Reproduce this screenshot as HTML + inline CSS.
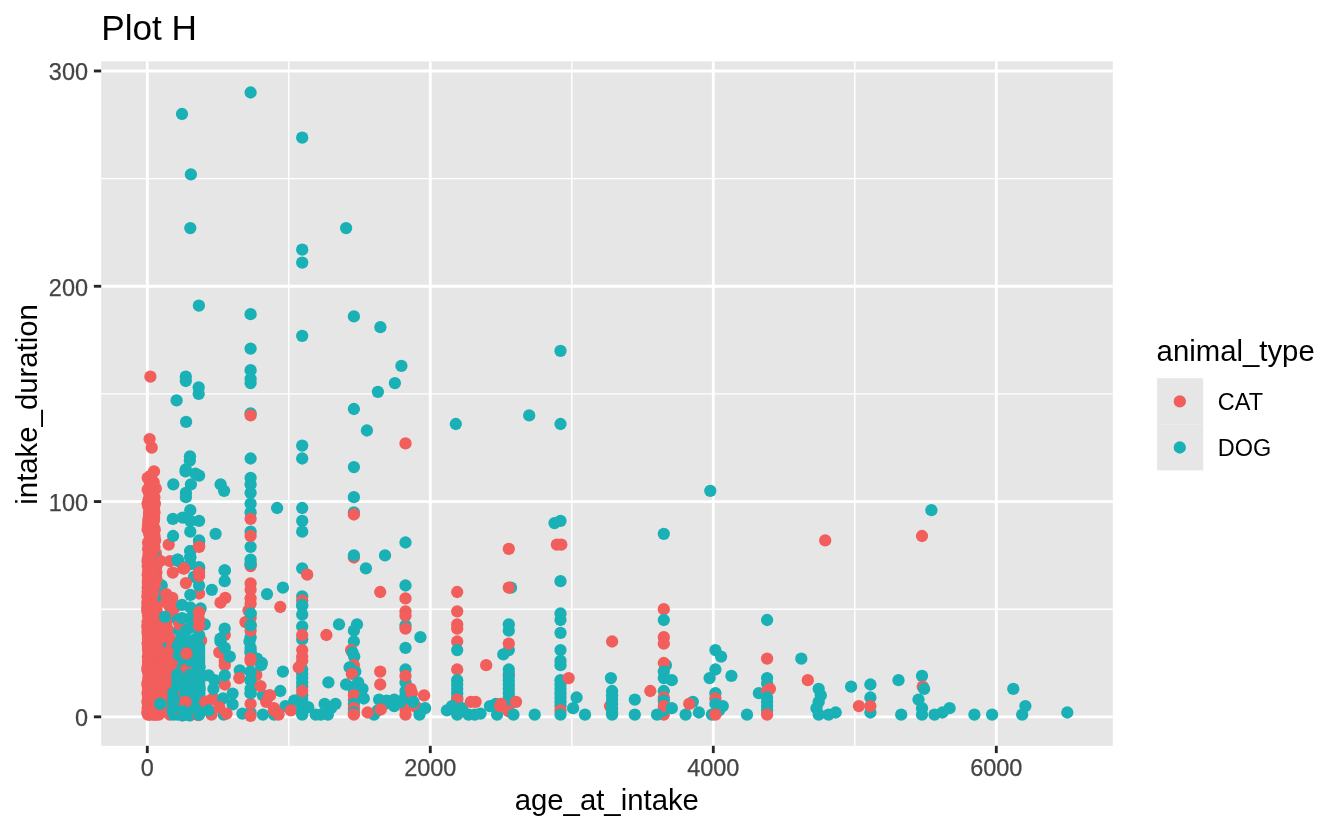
<!DOCTYPE html>
<html lang="en"><head><meta charset="utf-8"><title>Plot H</title>
<style>
html,body{margin:0;padding:0;background:#fff;}
svg{display:block;font-family:"Liberation Sans",Arial,Helvetica,sans-serif;}
.mn{stroke:#fff;stroke-width:1.42;}
.mj{stroke:#fff;stroke-width:2.85;}
.tk{stroke:#262626;stroke-width:2.85;}
.ax{font-size:23.47px;fill:#444;stroke:#444;stroke-width:0.25;}
.c{fill:#f25e5c;}
.d{fill:#1ab1b6;}
.t{font-size:29.33px;fill:#000;}
</style></head><body>
<svg width="1344" height="830" viewBox="0 0 1344 830">
<rect x="0" y="0" width="1344" height="830" fill="#fff"/>
<rect x="101.2" y="61.4" width="1011.6" height="684.4" fill="#e6e6e6"/>
<g><line class="mn" x1="101.2" x2="1112.8" y1="609.20" y2="609.20"/>
<line class="mn" x1="101.2" x2="1112.8" y1="393.91" y2="393.91"/>
<line class="mn" x1="101.2" x2="1112.8" y1="178.62" y2="178.62"/>
<line class="mn" x1="288.80" x2="288.80" y1="61.4" y2="745.8"/>
<line class="mn" x1="571.80" x2="571.80" y1="61.4" y2="745.8"/>
<line class="mn" x1="854.80" x2="854.80" y1="61.4" y2="745.8"/>
<line class="mj" x1="101.2" x2="1112.8" y1="716.84" y2="716.84"/>
<line class="mj" x1="101.2" x2="1112.8" y1="501.55" y2="501.55"/>
<line class="mj" x1="101.2" x2="1112.8" y1="286.26" y2="286.26"/>
<line class="mj" x1="101.2" x2="1112.8" y1="70.97" y2="70.97"/>
<line class="mj" x1="147.30" x2="147.30" y1="61.4" y2="745.8"/>
<line class="mj" x1="430.30" x2="430.30" y1="61.4" y2="745.8"/>
<line class="mj" x1="713.30" x2="713.30" y1="61.4" y2="745.8"/>
<line class="mj" x1="996.30" x2="996.30" y1="61.4" y2="745.8"/></g>
<g><circle class="c" cx="164.3" cy="645.8" r="6.15"/>
<circle class="c" cx="155.6" cy="620.0" r="6.15"/>
<circle class="c" cx="151.4" cy="557.5" r="6.15"/>
<circle class="c" cx="148.0" cy="598.4" r="6.15"/>
<circle class="c" cx="155.4" cy="637.2" r="6.15"/>
<circle class="c" cx="154.4" cy="617.8" r="6.15"/>
<circle class="c" cx="149.7" cy="643.6" r="6.15"/>
<circle class="c" cx="164.1" cy="665.2" r="6.15"/>
<circle class="d" cx="158.9" cy="640.4" r="6.15"/>
<circle class="c" cx="151.5" cy="536.0" r="6.15"/>
<circle class="d" cx="158.9" cy="640.4" r="6.15"/>
<circle class="c" cx="147.6" cy="693.2" r="6.15"/>
<circle class="c" cx="155.2" cy="641.5" r="6.15"/>
<circle class="c" cx="151.3" cy="525.2" r="6.15"/>
<circle class="c" cx="150.4" cy="527.4" r="6.15"/>
<circle class="c" cx="158.5" cy="622.1" r="6.15"/>
<circle class="d" cx="157.2" cy="643.6" r="6.15"/>
<circle class="c" cx="150.3" cy="650.1" r="6.15"/>
<circle class="c" cx="154.8" cy="667.3" r="6.15"/>
<circle class="c" cx="151.0" cy="581.2" r="6.15"/>
<circle class="d" cx="157.2" cy="643.6" r="6.15"/>
<circle class="c" cx="149.0" cy="617.8" r="6.15"/>
<circle class="c" cx="160.7" cy="703.9" r="6.15"/>
<circle class="c" cx="157.9" cy="682.4" r="6.15"/>
<circle class="c" cx="153.2" cy="587.7" r="6.15"/>
<circle class="c" cx="150.4" cy="546.8" r="6.15"/>
<circle class="c" cx="158.3" cy="697.5" r="6.15"/>
<circle class="c" cx="148.6" cy="628.6" r="6.15"/>
<circle class="c" cx="153.5" cy="647.9" r="6.15"/>
<circle class="c" cx="147.7" cy="630.7" r="6.15"/>
<circle class="c" cx="155.4" cy="688.9" r="6.15"/>
<circle class="c" cx="151.4" cy="512.3" r="6.15"/>
<circle class="c" cx="150.0" cy="654.4" r="6.15"/>
<circle class="c" cx="162.6" cy="620.0" r="6.15"/>
<circle class="d" cx="162.6" cy="596.7" r="6.15"/>
<circle class="c" cx="158.6" cy="654.4" r="6.15"/>
<circle class="c" cx="158.9" cy="658.7" r="6.15"/>
<circle class="c" cx="151.0" cy="613.5" r="6.15"/>
<circle class="c" cx="151.0" cy="622.1" r="6.15"/>
<circle class="c" cx="147.4" cy="669.5" r="6.15"/>
<circle class="c" cx="148.1" cy="600.6" r="6.15"/>
<circle class="c" cx="148.7" cy="652.3" r="6.15"/>
<circle class="c" cx="147.6" cy="503.7" r="6.15"/>
<circle class="c" cx="154.8" cy="561.8" r="6.15"/>
<circle class="c" cx="158.3" cy="650.1" r="6.15"/>
<circle class="c" cx="156.4" cy="673.8" r="6.15"/>
<circle class="c" cx="154.7" cy="641.5" r="6.15"/>
<circle class="c" cx="156.2" cy="592.0" r="6.15"/>
<circle class="c" cx="148.3" cy="594.1" r="6.15"/>
<circle class="c" cx="151.4" cy="598.4" r="6.15"/>
<circle class="c" cx="153.0" cy="529.5" r="6.15"/>
<circle class="c" cx="155.9" cy="680.2" r="6.15"/>
<circle class="c" cx="155.8" cy="583.4" r="6.15"/>
<circle class="c" cx="155.8" cy="643.6" r="6.15"/>
<circle class="c" cx="158.6" cy="632.9" r="6.15"/>
<circle class="d" cx="154.8" cy="648.8" r="6.15"/>
<circle class="c" cx="148.3" cy="641.5" r="6.15"/>
<circle class="c" cx="155.4" cy="660.9" r="6.15"/>
<circle class="c" cx="155.2" cy="654.4" r="6.15"/>
<circle class="d" cx="162.9" cy="630.7" r="6.15"/>
<circle class="c" cx="155.8" cy="553.2" r="6.15"/>
<circle class="c" cx="161.0" cy="708.2" r="6.15"/>
<circle class="c" cx="150.0" cy="508.0" r="6.15"/>
<circle class="d" cx="157.2" cy="697.5" r="6.15"/>
<circle class="c" cx="156.4" cy="667.3" r="6.15"/>
<circle class="d" cx="162.0" cy="686.7" r="6.15"/>
<circle class="c" cx="147.6" cy="529.5" r="6.15"/>
<circle class="c" cx="150.8" cy="650.1" r="6.15"/>
<circle class="c" cx="147.4" cy="701.8" r="6.15"/>
<circle class="c" cx="151.5" cy="641.5" r="6.15"/>
<circle class="c" cx="153.1" cy="673.8" r="6.15"/>
<circle class="c" cx="147.7" cy="561.8" r="6.15"/>
<circle class="c" cx="148.7" cy="613.5" r="6.15"/>
<circle class="c" cx="151.1" cy="708.2" r="6.15"/>
<circle class="c" cx="151.7" cy="505.9" r="6.15"/>
<circle class="c" cx="153.4" cy="624.3" r="6.15"/>
<circle class="c" cx="154.0" cy="628.6" r="6.15"/>
<circle class="c" cx="147.6" cy="667.3" r="6.15"/>
<circle class="d" cx="151.5" cy="613.5" r="6.15"/>
<circle class="c" cx="151.1" cy="585.5" r="6.15"/>
<circle class="c" cx="151.1" cy="617.8" r="6.15"/>
<circle class="c" cx="148.9" cy="699.6" r="6.15"/>
<circle class="d" cx="165.3" cy="669.5" r="6.15"/>
<circle class="c" cx="150.1" cy="559.7" r="6.15"/>
<circle class="c" cx="153.2" cy="607.0" r="6.15"/>
<circle class="c" cx="159.2" cy="693.2" r="6.15"/>
<circle class="c" cx="151.0" cy="710.4" r="6.15"/>
<circle class="c" cx="151.0" cy="684.5" r="6.15"/>
<circle class="c" cx="149.0" cy="602.7" r="6.15"/>
<circle class="c" cx="150.1" cy="667.3" r="6.15"/>
<circle class="c" cx="154.0" cy="533.8" r="6.15"/>
<circle class="c" cx="150.3" cy="635.0" r="6.15"/>
<circle class="d" cx="154.4" cy="574.7" r="6.15"/>
<circle class="c" cx="161.2" cy="682.4" r="6.15"/>
<circle class="c" cx="158.2" cy="699.6" r="6.15"/>
<circle class="c" cx="158.6" cy="671.6" r="6.15"/>
<circle class="c" cx="154.7" cy="596.3" r="6.15"/>
<circle class="c" cx="147.6" cy="622.1" r="6.15"/>
<circle class="c" cx="155.2" cy="624.3" r="6.15"/>
<circle class="c" cx="155.4" cy="684.5" r="6.15"/>
<circle class="d" cx="167.4" cy="643.6" r="6.15"/>
<circle class="c" cx="158.3" cy="620.0" r="6.15"/>
<circle class="c" cx="148.6" cy="518.8" r="6.15"/>
<circle class="c" cx="152.7" cy="570.4" r="6.15"/>
<circle class="c" cx="147.6" cy="632.9" r="6.15"/>
<circle class="d" cx="155.1" cy="643.6" r="6.15"/>
<circle class="c" cx="148.1" cy="505.9" r="6.15"/>
<circle class="c" cx="155.6" cy="598.4" r="6.15"/>
<circle class="c" cx="160.5" cy="622.1" r="6.15"/>
<circle class="d" cx="150.1" cy="710.4" r="6.15"/>
<circle class="c" cx="158.1" cy="628.6" r="6.15"/>
<circle class="c" cx="147.3" cy="712.5" r="6.15"/>
<circle class="d" cx="155.1" cy="643.6" r="6.15"/>
<circle class="c" cx="156.2" cy="583.4" r="6.15"/>
<circle class="c" cx="153.8" cy="600.6" r="6.15"/>
<circle class="c" cx="149.0" cy="658.7" r="6.15"/>
<circle class="c" cx="147.9" cy="656.6" r="6.15"/>
<circle class="c" cx="150.1" cy="540.3" r="6.15"/>
<circle class="c" cx="154.0" cy="645.8" r="6.15"/>
<circle class="c" cx="149.8" cy="527.4" r="6.15"/>
<circle class="c" cx="152.1" cy="671.6" r="6.15"/>
<circle class="c" cx="148.6" cy="557.5" r="6.15"/>
<circle class="c" cx="155.9" cy="615.7" r="6.15"/>
<circle class="c" cx="153.0" cy="548.9" r="6.15"/>
<circle class="c" cx="153.7" cy="654.4" r="6.15"/>
<circle class="c" cx="151.8" cy="697.5" r="6.15"/>
<circle class="c" cx="156.5" cy="611.3" r="6.15"/>
<circle class="c" cx="155.8" cy="686.7" r="6.15"/>
<circle class="c" cx="149.8" cy="568.3" r="6.15"/>
<circle class="c" cx="150.6" cy="516.6" r="6.15"/>
<circle class="c" cx="150.8" cy="594.1" r="6.15"/>
<circle class="c" cx="155.5" cy="701.8" r="6.15"/>
<circle class="c" cx="156.6" cy="675.9" r="6.15"/>
<circle class="c" cx="149.7" cy="572.6" r="6.15"/>
<circle class="c" cx="150.3" cy="678.1" r="6.15"/>
<circle class="c" cx="148.6" cy="663.0" r="6.15"/>
<circle class="c" cx="160.5" cy="647.9" r="6.15"/>
<circle class="c" cx="158.1" cy="637.2" r="6.15"/>
<circle class="c" cx="156.2" cy="695.3" r="6.15"/>
<circle class="c" cx="152.3" cy="663.0" r="6.15"/>
<circle class="c" cx="147.4" cy="609.2" r="6.15"/>
<circle class="c" cx="149.0" cy="712.5" r="6.15"/>
<circle class="d" cx="166.4" cy="650.1" r="6.15"/>
<circle class="c" cx="163.6" cy="658.7" r="6.15"/>
<circle class="c" cx="162.9" cy="691.0" r="6.15"/>
<circle class="c" cx="153.5" cy="622.1" r="6.15"/>
<circle class="c" cx="154.9" cy="572.6" r="6.15"/>
<circle class="c" cx="153.7" cy="635.0" r="6.15"/>
<circle class="c" cx="163.4" cy="710.4" r="6.15"/>
<circle class="d" cx="159.0" cy="585.5" r="6.15"/>
<circle class="d" cx="159.0" cy="585.5" r="6.15"/>
<circle class="c" cx="151.4" cy="540.3" r="6.15"/>
<circle class="c" cx="153.2" cy="682.4" r="6.15"/>
<circle class="c" cx="151.3" cy="688.9" r="6.15"/>
<circle class="c" cx="149.1" cy="604.9" r="6.15"/>
<circle class="c" cx="149.1" cy="592.0" r="6.15"/>
<circle class="c" cx="147.3" cy="602.7" r="6.15"/>
<circle class="d" cx="162.0" cy="686.7" r="6.15"/>
<circle class="d" cx="157.2" cy="697.5" r="6.15"/>
<circle class="c" cx="154.2" cy="538.1" r="6.15"/>
<circle class="c" cx="147.4" cy="684.5" r="6.15"/>
<circle class="c" cx="155.4" cy="602.7" r="6.15"/>
<circle class="c" cx="156.4" cy="572.6" r="6.15"/>
<circle class="c" cx="148.3" cy="645.8" r="6.15"/>
<circle class="c" cx="149.4" cy="514.5" r="6.15"/>
<circle class="c" cx="148.3" cy="589.8" r="6.15"/>
<circle class="c" cx="151.1" cy="693.2" r="6.15"/>
<circle class="c" cx="153.5" cy="613.5" r="6.15"/>
<circle class="c" cx="162.6" cy="639.3" r="6.15"/>
<circle class="c" cx="156.4" cy="635.0" r="6.15"/>
<circle class="c" cx="147.7" cy="587.7" r="6.15"/>
<circle class="c" cx="158.8" cy="714.7" r="6.15"/>
<circle class="c" cx="154.7" cy="650.1" r="6.15"/>
<circle class="c" cx="150.0" cy="673.8" r="6.15"/>
<circle class="d" cx="166.3" cy="669.5" r="6.15"/>
<circle class="c" cx="152.8" cy="620.0" r="6.15"/>
<circle class="c" cx="155.2" cy="660.9" r="6.15"/>
<circle class="c" cx="157.8" cy="660.9" r="6.15"/>
<circle class="c" cx="155.1" cy="626.4" r="6.15"/>
<circle class="c" cx="150.1" cy="680.2" r="6.15"/>
<circle class="c" cx="156.4" cy="656.6" r="6.15"/>
<circle class="c" cx="151.4" cy="574.7" r="6.15"/>
<circle class="c" cx="154.5" cy="669.5" r="6.15"/>
<circle class="c" cx="151.1" cy="658.7" r="6.15"/>
<circle class="c" cx="150.0" cy="533.8" r="6.15"/>
<circle class="c" cx="154.8" cy="557.5" r="6.15"/>
<circle class="c" cx="148.1" cy="697.5" r="6.15"/>
<circle class="c" cx="153.4" cy="607.0" r="6.15"/>
<circle class="c" cx="151.8" cy="561.8" r="6.15"/>
<circle class="c" cx="163.9" cy="652.3" r="6.15"/>
<circle class="c" cx="158.6" cy="669.5" r="6.15"/>
<circle class="c" cx="147.3" cy="626.4" r="6.15"/>
<circle class="c" cx="148.1" cy="525.2" r="6.15"/>
<circle class="c" cx="153.4" cy="510.2" r="6.15"/>
<circle class="c" cx="160.5" cy="643.6" r="6.15"/>
<circle class="c" cx="155.2" cy="654.4" r="6.15"/>
<circle class="c" cx="164.0" cy="632.9" r="6.15"/>
<circle class="d" cx="162.9" cy="630.7" r="6.15"/>
<circle class="c" cx="152.1" cy="594.1" r="6.15"/>
<circle class="c" cx="148.4" cy="703.9" r="6.15"/>
<circle class="c" cx="152.4" cy="566.1" r="6.15"/>
<circle class="c" cx="148.0" cy="686.7" r="6.15"/>
<circle class="c" cx="148.1" cy="639.3" r="6.15"/>
<circle class="c" cx="151.1" cy="639.3" r="6.15"/>
<circle class="c" cx="150.3" cy="555.4" r="6.15"/>
<circle class="c" cx="158.8" cy="680.2" r="6.15"/>
<circle class="c" cx="152.8" cy="611.3" r="6.15"/>
<circle class="c" cx="158.5" cy="663.0" r="6.15"/>
<circle class="c" cx="150.8" cy="557.5" r="6.15"/>
<circle class="c" cx="147.4" cy="607.0" r="6.15"/>
<circle class="c" cx="156.4" cy="602.7" r="6.15"/>
<circle class="c" cx="150.1" cy="609.2" r="6.15"/>
<circle class="c" cx="148.6" cy="688.9" r="6.15"/>
<circle class="d" cx="166.3" cy="669.5" r="6.15"/>
<circle class="c" cx="149.0" cy="544.6" r="6.15"/>
<circle class="c" cx="158.2" cy="643.6" r="6.15"/>
<circle class="c" cx="152.8" cy="546.8" r="6.15"/>
<circle class="c" cx="154.5" cy="682.4" r="6.15"/>
<circle class="c" cx="153.0" cy="564.0" r="6.15"/>
<circle class="c" cx="152.0" cy="628.6" r="6.15"/>
<circle class="c" cx="155.8" cy="596.3" r="6.15"/>
<circle class="c" cx="155.1" cy="579.1" r="6.15"/>
<circle class="c" cx="147.7" cy="566.1" r="6.15"/>
<circle class="c" cx="148.9" cy="708.2" r="6.15"/>
<circle class="c" cx="153.7" cy="701.8" r="6.15"/>
<circle class="c" cx="155.5" cy="714.7" r="6.15"/>
<circle class="c" cx="161.7" cy="699.6" r="6.15"/>
<circle class="c" cx="152.4" cy="598.4" r="6.15"/>
<circle class="c" cx="152.1" cy="678.1" r="6.15"/>
<circle class="c" cx="149.6" cy="611.3" r="6.15"/>
<circle class="c" cx="150.8" cy="656.6" r="6.15"/>
<circle class="c" cx="148.1" cy="665.2" r="6.15"/>
<circle class="c" cx="153.0" cy="706.1" r="6.15"/>
<circle class="c" cx="161.3" cy="686.7" r="6.15"/>
<circle class="c" cx="153.0" cy="596.3" r="6.15"/>
<circle class="c" cx="155.8" cy="663.0" r="6.15"/>
<circle class="c" cx="148.0" cy="660.9" r="6.15"/>
<circle class="c" cx="148.1" cy="706.1" r="6.15"/>
<circle class="c" cx="155.1" cy="665.2" r="6.15"/>
<circle class="c" cx="149.0" cy="680.2" r="6.15"/>
<circle class="c" cx="156.4" cy="686.7" r="6.15"/>
<circle class="c" cx="150.4" cy="613.5" r="6.15"/>
<circle class="c" cx="149.0" cy="551.1" r="6.15"/>
<circle class="c" cx="155.5" cy="714.7" r="6.15"/>
<circle class="c" cx="157.9" cy="706.1" r="6.15"/>
<circle class="c" cx="148.1" cy="548.9" r="6.15"/>
<circle class="c" cx="152.5" cy="553.2" r="6.15"/>
<circle class="c" cx="148.9" cy="585.5" r="6.15"/>
<circle class="c" cx="153.4" cy="699.6" r="6.15"/>
<circle class="c" cx="155.4" cy="622.1" r="6.15"/>
<circle class="c" cx="153.7" cy="600.6" r="6.15"/>
<circle class="c" cx="153.1" cy="669.5" r="6.15"/>
<circle class="c" cx="155.5" cy="706.1" r="6.15"/>
<circle class="c" cx="163.3" cy="671.6" r="6.15"/>
<circle class="c" cx="158.1" cy="675.9" r="6.15"/>
<circle class="c" cx="151.5" cy="544.6" r="6.15"/>
<circle class="c" cx="150.8" cy="682.4" r="6.15"/>
<circle class="c" cx="149.4" cy="628.6" r="6.15"/>
<circle class="c" cx="158.5" cy="665.2" r="6.15"/>
<circle class="c" cx="148.7" cy="620.0" r="6.15"/>
<circle class="c" cx="149.3" cy="600.6" r="6.15"/>
<circle class="c" cx="153.7" cy="555.4" r="6.15"/>
<circle class="c" cx="151.5" cy="632.9" r="6.15"/>
<circle class="c" cx="158.8" cy="656.6" r="6.15"/>
<circle class="c" cx="147.7" cy="559.7" r="6.15"/>
<circle class="c" cx="153.4" cy="581.2" r="6.15"/>
<circle class="c" cx="152.4" cy="525.2" r="6.15"/>
<circle class="c" cx="150.7" cy="671.6" r="6.15"/>
<circle class="c" cx="147.7" cy="708.2" r="6.15"/>
<circle class="c" cx="156.4" cy="609.2" r="6.15"/>
<circle class="c" cx="152.3" cy="548.9" r="6.15"/>
<circle class="c" cx="153.2" cy="579.1" r="6.15"/>
<circle class="c" cx="154.5" cy="536.0" r="6.15"/>
<circle class="c" cx="164.3" cy="697.5" r="6.15"/>
<circle class="c" cx="151.3" cy="684.5" r="6.15"/>
<circle class="c" cx="153.2" cy="639.3" r="6.15"/>
<circle class="c" cx="147.7" cy="574.7" r="6.15"/>
<circle class="c" cx="155.2" cy="680.2" r="6.15"/>
<circle class="c" cx="150.0" cy="514.5" r="6.15"/>
<circle class="c" cx="157.9" cy="695.3" r="6.15"/>
<circle class="c" cx="154.9" cy="503.7" r="6.15"/>
<circle class="c" cx="149.0" cy="675.9" r="6.15"/>
<circle class="c" cx="156.4" cy="585.5" r="6.15"/>
<circle class="c" cx="156.4" cy="566.1" r="6.15"/>
<circle class="c" cx="149.0" cy="516.6" r="6.15"/>
<circle class="c" cx="153.0" cy="658.7" r="6.15"/>
<circle class="c" cx="153.5" cy="609.2" r="6.15"/>
<circle class="c" cx="151.5" cy="548.9" r="6.15"/>
<circle class="c" cx="152.3" cy="592.0" r="6.15"/>
<circle class="c" cx="160.9" cy="639.3" r="6.15"/>
<circle class="c" cx="156.2" cy="663.0" r="6.15"/>
<circle class="c" cx="153.1" cy="589.8" r="6.15"/>
<circle class="c" cx="158.3" cy="630.7" r="6.15"/>
<circle class="c" cx="158.5" cy="652.3" r="6.15"/>
<circle class="c" cx="158.6" cy="673.8" r="6.15"/>
<circle class="c" cx="150.1" cy="510.2" r="6.15"/>
<circle class="c" cx="154.8" cy="630.7" r="6.15"/>
<circle class="c" cx="155.8" cy="570.4" r="6.15"/>
<circle class="c" cx="150.3" cy="564.0" r="6.15"/>
<circle class="c" cx="147.7" cy="682.4" r="6.15"/>
<circle class="c" cx="149.1" cy="553.2" r="6.15"/>
<circle class="c" cx="152.4" cy="587.7" r="6.15"/>
<circle class="c" cx="151.0" cy="587.7" r="6.15"/>
<circle class="c" cx="152.0" cy="637.2" r="6.15"/>
<circle class="c" cx="148.1" cy="572.6" r="6.15"/>
<circle class="c" cx="148.1" cy="635.0" r="6.15"/>
<circle class="c" cx="148.4" cy="520.9" r="6.15"/>
<circle class="c" cx="159.2" cy="703.9" r="6.15"/>
<circle class="c" cx="153.7" cy="688.9" r="6.15"/>
<circle class="c" cx="159.2" cy="691.0" r="6.15"/>
<circle class="c" cx="147.9" cy="581.2" r="6.15"/>
<circle class="c" cx="155.2" cy="699.6" r="6.15"/>
<circle class="c" cx="151.1" cy="583.4" r="6.15"/>
<circle class="c" cx="153.2" cy="712.5" r="6.15"/>
<circle class="c" cx="149.1" cy="512.3" r="6.15"/>
<circle class="c" cx="151.7" cy="559.7" r="6.15"/>
<circle class="c" cx="156.2" cy="617.8" r="6.15"/>
<circle class="d" cx="161.2" cy="686.7" r="6.15"/>
<circle class="c" cx="151.4" cy="624.3" r="6.15"/>
<circle class="c" cx="153.0" cy="675.9" r="6.15"/>
<circle class="c" cx="153.4" cy="551.1" r="6.15"/>
<circle class="c" cx="150.0" cy="538.1" r="6.15"/>
<circle class="c" cx="158.9" cy="647.9" r="6.15"/>
<circle class="c" cx="154.4" cy="546.8" r="6.15"/>
<circle class="c" cx="158.1" cy="686.7" r="6.15"/>
<circle class="c" cx="155.8" cy="637.2" r="6.15"/>
<circle class="c" cx="151.5" cy="583.4" r="6.15"/>
<circle class="c" cx="154.5" cy="695.3" r="6.15"/>
<circle class="c" cx="161.0" cy="660.9" r="6.15"/>
<circle class="c" cx="148.0" cy="579.1" r="6.15"/>
<circle class="c" cx="158.3" cy="688.9" r="6.15"/>
<circle class="c" cx="152.1" cy="652.3" r="6.15"/>
<circle class="c" cx="150.7" cy="658.7" r="6.15"/>
<circle class="c" cx="148.1" cy="650.1" r="6.15"/>
<circle class="d" cx="163.1" cy="669.9" r="6.15"/>
<circle class="c" cx="152.1" cy="695.3" r="6.15"/>
<circle class="c" cx="148.9" cy="645.8" r="6.15"/>
<circle class="c" cx="150.8" cy="585.5" r="6.15"/>
<circle class="c" cx="148.9" cy="697.5" r="6.15"/>
<circle class="c" cx="150.3" cy="570.4" r="6.15"/>
<circle class="c" cx="161.2" cy="630.7" r="6.15"/>
<circle class="c" cx="153.1" cy="691.0" r="6.15"/>
<circle class="d" cx="154.8" cy="648.8" r="6.15"/>
<circle class="c" cx="155.6" cy="564.0" r="6.15"/>
<circle class="c" cx="152.8" cy="697.5" r="6.15"/>
<circle class="c" cx="149.4" cy="589.8" r="6.15"/>
<circle class="c" cx="160.6" cy="695.3" r="6.15"/>
<circle class="c" cx="156.4" cy="589.8" r="6.15"/>
<circle class="c" cx="152.4" cy="581.2" r="6.15"/>
<circle class="c" cx="157.9" cy="701.8" r="6.15"/>
<circle class="c" cx="149.4" cy="523.1" r="6.15"/>
<circle class="c" cx="149.0" cy="568.3" r="6.15"/>
<circle class="c" cx="160.5" cy="665.2" r="6.15"/>
<circle class="d" cx="161.5" cy="585.5" r="6.15"/>
<circle class="c" cx="155.5" cy="699.6" r="6.15"/>
<circle class="c" cx="149.7" cy="701.8" r="6.15"/>
<circle class="c" cx="149.1" cy="561.8" r="6.15"/>
<circle class="c" cx="153.8" cy="592.0" r="6.15"/>
<circle class="c" cx="147.4" cy="611.3" r="6.15"/>
<circle class="c" cx="149.1" cy="686.7" r="6.15"/>
<circle class="c" cx="148.1" cy="615.7" r="6.15"/>
<circle class="c" cx="150.4" cy="538.1" r="6.15"/>
<circle class="d" cx="151.5" cy="613.5" r="6.15"/>
<circle class="c" cx="156.5" cy="604.9" r="6.15"/>
<circle class="c" cx="154.5" cy="708.2" r="6.15"/>
<circle class="c" cx="156.4" cy="628.6" r="6.15"/>
<circle class="c" cx="157.9" cy="645.8" r="6.15"/>
<circle class="c" cx="155.2" cy="682.4" r="6.15"/>
<circle class="c" cx="158.5" cy="667.3" r="6.15"/>
<circle class="c" cx="152.7" cy="523.1" r="6.15"/>
<circle class="c" cx="154.5" cy="512.3" r="6.15"/>
<circle class="c" cx="156.2" cy="630.7" r="6.15"/>
<circle class="c" cx="150.7" cy="520.9" r="6.15"/>
<circle class="c" cx="148.0" cy="710.4" r="6.15"/>
<circle class="c" cx="154.8" cy="559.7" r="6.15"/>
<circle class="c" cx="156.5" cy="712.5" r="6.15"/>
<circle class="d" cx="166.4" cy="650.1" r="6.15"/>
<circle class="c" cx="160.3" cy="656.6" r="6.15"/>
<circle class="c" cx="155.6" cy="576.9" r="6.15"/>
<circle class="c" cx="154.0" cy="516.6" r="6.15"/>
<circle class="d" cx="155.8" cy="557.5" r="6.15"/>
<circle class="c" cx="154.8" cy="598.4" r="6.15"/>
<circle class="c" cx="149.4" cy="542.5" r="6.15"/>
<circle class="c" cx="151.7" cy="574.7" r="6.15"/>
<circle class="c" cx="155.6" cy="647.9" r="6.15"/>
<circle class="c" cx="151.0" cy="703.9" r="6.15"/>
<circle class="d" cx="154.4" cy="574.7" r="6.15"/>
<circle class="c" cx="150.3" cy="536.0" r="6.15"/>
<circle class="c" cx="148.9" cy="544.6" r="6.15"/>
<circle class="c" cx="154.0" cy="508.0" r="6.15"/>
<circle class="c" cx="151.1" cy="637.2" r="6.15"/>
<circle class="c" cx="148.6" cy="673.8" r="6.15"/>
<circle class="c" cx="158.3" cy="635.0" r="6.15"/>
<circle class="c" cx="149.8" cy="508.0" r="6.15"/>
<circle class="c" cx="152.7" cy="626.4" r="6.15"/>
<circle class="c" cx="156.4" cy="669.5" r="6.15"/>
<circle class="c" cx="152.8" cy="609.2" r="6.15"/>
<circle class="c" cx="149.6" cy="551.1" r="6.15"/>
<circle class="c" cx="151.7" cy="510.2" r="6.15"/>
<circle class="c" cx="160.6" cy="635.0" r="6.15"/>
<circle class="c" cx="154.8" cy="673.8" r="6.15"/>
<circle class="c" cx="156.5" cy="693.2" r="6.15"/>
<circle class="d" cx="153.0" cy="673.8" r="6.15"/>
<circle class="c" cx="153.0" cy="555.4" r="6.15"/>
<circle class="c" cx="161.5" cy="673.8" r="6.15"/>
<circle class="c" cx="155.8" cy="652.3" r="6.15"/>
<circle class="c" cx="152.1" cy="542.5" r="6.15"/>
<circle class="c" cx="153.2" cy="632.9" r="6.15"/>
<circle class="c" cx="149.0" cy="632.9" r="6.15"/>
<circle class="d" cx="161.2" cy="686.7" r="6.15"/>
<circle class="c" cx="158.3" cy="639.3" r="6.15"/>
<circle class="c" cx="150.6" cy="703.9" r="6.15"/>
<circle class="c" cx="148.7" cy="553.2" r="6.15"/>
<circle class="c" cx="148.4" cy="604.9" r="6.15"/>
<circle class="c" cx="149.4" cy="675.9" r="6.15"/>
<circle class="c" cx="151.1" cy="691.0" r="6.15"/>
<circle class="c" cx="154.4" cy="643.6" r="6.15"/>
<circle class="c" cx="151.5" cy="691.0" r="6.15"/>
<circle class="c" cx="152.5" cy="714.7" r="6.15"/>
<circle class="c" cx="155.6" cy="650.1" r="6.15"/>
<circle class="d" cx="155.8" cy="557.5" r="6.15"/>
<circle class="c" cx="153.1" cy="647.9" r="6.15"/>
<circle class="c" cx="153.0" cy="660.9" r="6.15"/>
<circle class="c" cx="150.0" cy="531.7" r="6.15"/>
<circle class="c" cx="151.0" cy="576.9" r="6.15"/>
<circle class="c" cx="152.0" cy="639.3" r="6.15"/>
<circle class="c" cx="158.8" cy="624.3" r="6.15"/>
<circle class="c" cx="151.3" cy="693.2" r="6.15"/>
<circle class="c" cx="163.0" cy="678.1" r="6.15"/>
<circle class="c" cx="154.1" cy="624.3" r="6.15"/>
<circle class="c" cx="148.0" cy="714.7" r="6.15"/>
<circle class="c" cx="148.9" cy="665.2" r="6.15"/>
<circle class="d" cx="167.4" cy="643.6" r="6.15"/>
<circle class="c" cx="152.8" cy="656.6" r="6.15"/>
<circle class="c" cx="150.8" cy="630.7" r="6.15"/>
<circle class="d" cx="150.1" cy="710.4" r="6.15"/>
<circle class="c" cx="163.9" cy="626.4" r="6.15"/>
<circle class="d" cx="165.3" cy="669.5" r="6.15"/>
<circle class="c" cx="149.0" cy="564.0" r="6.15"/>
<circle class="c" cx="148.0" cy="624.3" r="6.15"/>
<circle class="c" cx="151.3" cy="615.7" r="6.15"/>
<circle class="c" cx="152.5" cy="643.6" r="6.15"/>
<circle class="c" cx="149.3" cy="714.7" r="6.15"/>
<circle class="c" cx="158.9" cy="626.4" r="6.15"/>
<circle class="c" cx="149.0" cy="641.5" r="6.15"/>
<circle class="c" cx="148.0" cy="671.6" r="6.15"/>
<circle class="c" cx="151.1" cy="665.2" r="6.15"/>
<circle class="c" cx="152.7" cy="589.8" r="6.15"/>
<circle class="c" cx="155.2" cy="703.9" r="6.15"/>
<circle class="c" cx="152.5" cy="635.0" r="6.15"/>
<circle class="c" cx="152.8" cy="518.8" r="6.15"/>
<circle class="d" cx="153.0" cy="673.8" r="6.15"/>
<circle class="c" cx="153.0" cy="551.1" r="6.15"/>
<circle class="c" cx="148.1" cy="637.2" r="6.15"/>
<circle class="c" cx="153.8" cy="527.4" r="6.15"/>
<circle class="c" cx="157.9" cy="641.5" r="6.15"/>
<circle class="c" cx="161.0" cy="691.0" r="6.15"/>
<circle class="c" cx="153.4" cy="611.3" r="6.15"/>
<circle class="c" cx="158.8" cy="708.2" r="6.15"/>
<circle class="c" cx="154.8" cy="529.5" r="6.15"/>
<circle class="c" cx="155.2" cy="693.2" r="6.15"/>
<circle class="c" cx="148.6" cy="699.6" r="6.15"/>
<circle class="c" cx="155.4" cy="671.6" r="6.15"/>
<circle class="c" cx="147.4" cy="596.3" r="6.15"/>
<circle class="c" cx="151.7" cy="645.8" r="6.15"/>
<circle class="c" cx="158.2" cy="684.5" r="6.15"/>
<circle class="c" cx="155.2" cy="708.2" r="6.15"/>
<circle class="c" cx="148.1" cy="542.5" r="6.15"/>
<circle class="c" cx="148.4" cy="695.3" r="6.15"/>
<circle class="d" cx="161.5" cy="585.5" r="6.15"/>
<circle class="c" cx="152.8" cy="680.2" r="6.15"/>
<circle class="c" cx="157.9" cy="710.4" r="6.15"/>
<circle class="c" cx="155.5" cy="701.8" r="6.15"/>
<circle class="c" cx="148.9" cy="620.0" r="6.15"/>
<circle class="c" cx="155.4" cy="604.9" r="6.15"/>
<circle class="c" cx="153.7" cy="678.1" r="6.15"/>
<circle class="c" cx="155.1" cy="540.3" r="6.15"/>
<circle class="c" cx="153.8" cy="505.9" r="6.15"/>
<circle class="c" cx="151.7" cy="514.5" r="6.15"/>
<circle class="c" cx="164.1" cy="684.5" r="6.15"/>
<circle class="c" cx="158.1" cy="712.5" r="6.15"/>
<circle class="c" cx="151.4" cy="660.9" r="6.15"/>
<circle class="c" cx="155.5" cy="622.1" r="6.15"/>
<circle class="c" cx="150.7" cy="652.3" r="6.15"/>
<circle class="c" cx="151.1" cy="656.6" r="6.15"/>
<circle class="c" cx="153.8" cy="520.9" r="6.15"/>
<circle class="c" cx="149.7" cy="630.7" r="6.15"/>
<circle class="c" cx="155.5" cy="576.9" r="6.15"/>
<circle class="c" cx="148.7" cy="607.0" r="6.15"/>
<circle class="c" cx="158.1" cy="678.1" r="6.15"/>
<circle class="d" cx="163.1" cy="669.9" r="6.15"/>
<circle class="c" cx="154.7" cy="566.1" r="6.15"/>
<circle class="c" cx="149.7" cy="579.1" r="6.15"/>
<circle class="c" cx="150.0" cy="531.7" r="6.15"/>
<circle class="c" cx="149.1" cy="596.3" r="6.15"/>
<circle class="c" cx="149.1" cy="533.8" r="6.15"/>
<circle class="c" cx="156.4" cy="579.1" r="6.15"/>
<circle class="c" cx="151.5" cy="531.7" r="6.15"/>
<circle class="c" cx="153.2" cy="686.7" r="6.15"/>
<circle class="c" cx="147.6" cy="592.0" r="6.15"/>
<circle class="c" cx="161.5" cy="652.3" r="6.15"/>
<circle class="c" cx="149.4" cy="647.9" r="6.15"/>
<circle class="c" cx="154.9" cy="585.5" r="6.15"/>
<circle class="c" cx="153.7" cy="574.7" r="6.15"/>
<circle class="c" cx="150.1" cy="663.0" r="6.15"/>
<circle class="c" cx="161.5" cy="626.4" r="6.15"/>
<circle class="c" cx="152.4" cy="564.0" r="6.15"/>
<circle class="c" cx="152.3" cy="576.9" r="6.15"/>
<circle class="c" cx="151.4" cy="503.7" r="6.15"/>
<circle class="c" cx="151.3" cy="710.4" r="6.15"/>
<circle class="c" cx="153.1" cy="712.5" r="6.15"/>
<circle class="c" cx="149.3" cy="695.3" r="6.15"/>
<circle class="c" cx="149.0" cy="576.9" r="6.15"/>
<circle class="c" cx="151.8" cy="706.1" r="6.15"/>
<circle class="c" cx="154.1" cy="518.8" r="6.15"/>
<circle class="c" cx="151.4" cy="566.1" r="6.15"/>
<circle class="c" cx="152.5" cy="617.8" r="6.15"/>
<circle class="d" cx="162.6" cy="596.7" r="6.15"/>
<circle class="c" cx="161.7" cy="678.1" r="6.15"/>
<circle class="c" cx="148.7" cy="555.4" r="6.15"/>
<circle class="c" cx="151.7" cy="602.7" r="6.15"/>
<circle class="c" cx="149.0" cy="546.8" r="6.15"/>
<circle class="c" cx="153.4" cy="544.6" r="6.15"/>
<circle class="c" cx="152.4" cy="604.9" r="6.15"/>
<circle class="c" cx="150.4" cy="615.7" r="6.15"/>
<circle class="c" cx="153.5" cy="688.9" r="6.15"/>
<circle class="c" cx="148.3" cy="570.4" r="6.15"/>
<circle class="c" cx="149.3" cy="626.4" r="6.15"/>
<circle class="c" cx="148.9" cy="654.4" r="6.15"/>
<circle class="c" cx="147.9" cy="583.4" r="6.15"/>
<circle class="c" cx="147.9" cy="691.0" r="6.15"/>
<circle class="c" cx="147.6" cy="643.6" r="6.15"/>
<circle class="c" cx="153.0" cy="568.3" r="6.15"/>
<circle class="c" cx="161.2" cy="712.5" r="6.15"/>
<circle class="c" cx="148.4" cy="523.1" r="6.15"/>
<circle class="c" cx="154.9" cy="710.4" r="6.15"/>
<circle class="c" cx="160.7" cy="669.5" r="6.15"/>
<circle class="c" cx="148.0" cy="647.9" r="6.15"/>
<circle class="c" cx="150.8" cy="570.4" r="6.15"/>
<circle class="c" cx="148.3" cy="678.1" r="6.15"/>
<circle class="c" cx="153.0" cy="594.1" r="6.15"/>
<circle class="c" cx="149.1" cy="669.5" r="6.15"/>
<circle class="c" cx="151.7" cy="572.6" r="6.15"/>
<circle class="c" cx="151.4" cy="667.3" r="6.15"/>
<circle class="c" cx="149.0" cy="706.1" r="6.15"/>
<circle class="c" cx="153.8" cy="568.3" r="6.15"/>
<circle class="c" cx="151.8" cy="675.9" r="6.15"/>
<circle class="c" cx="163.4" cy="703.9" r="6.15"/>
<circle class="c" cx="154.8" cy="615.7" r="6.15"/>
<circle class="c" cx="154.0" cy="471.4" r="6.15"/>
<circle class="c" cx="147.7" cy="477.9" r="6.15"/>
<circle class="c" cx="151.5" cy="480.0" r="6.15"/>
<circle class="c" cx="155.8" cy="488.6" r="6.15"/>
<circle class="c" cx="147.7" cy="489.5" r="6.15"/>
<circle class="c" cx="151.5" cy="494.0" r="6.15"/>
<circle class="c" cx="148.7" cy="499.4" r="6.15"/>
<circle class="c" cx="153.0" cy="500.3" r="6.15"/>
<circle class="c" cx="150.1" cy="484.3" r="6.15"/>
<circle class="c" cx="150.8" cy="475.7" r="6.15"/>
<circle class="c" cx="153.7" cy="482.2" r="6.15"/>
<circle class="c" cx="149.0" cy="492.9" r="6.15"/>
<circle class="c" cx="154.4" cy="497.2" r="6.15"/>
<circle class="c" cx="149.6" cy="439.1" r="6.15"/>
<circle class="c" cx="151.7" cy="447.7" r="6.15"/>
<circle class="c" cx="150.4" cy="376.7" r="6.15"/>
<circle class="c" cx="166.3" cy="594.1" r="6.15"/>
<circle class="c" cx="172.3" cy="597.8" r="6.15"/>
<circle class="c" cx="174.8" cy="607.5" r="6.15"/>
<circle class="c" cx="169.9" cy="607.0" r="6.15"/>
<circle class="c" cx="166.3" cy="602.7" r="6.15"/>
<circle class="c" cx="166.3" cy="624.3" r="6.15"/>
<circle class="c" cx="166.3" cy="636.3" r="6.15"/>
<circle class="c" cx="160.2" cy="560.8" r="6.15"/>
<circle class="c" cx="169.9" cy="561.2" r="6.15"/>
<circle class="c" cx="168.7" cy="544.6" r="6.15"/>
<circle class="c" cx="172.8" cy="572.6" r="6.15"/>
<circle class="c" cx="172.8" cy="610.3" r="6.15"/>
<circle class="c" cx="168.5" cy="655.1" r="6.15"/>
<circle class="c" cx="172.1" cy="658.7" r="6.15"/>
<circle class="c" cx="173.5" cy="666.2" r="6.15"/>
<circle class="c" cx="175.6" cy="663.0" r="6.15"/>
<circle class="c" cx="169.9" cy="652.3" r="6.15"/>
<circle class="c" cx="167.1" cy="660.9" r="6.15"/>
<circle class="c" cx="171.4" cy="671.6" r="6.15"/>
<circle class="c" cx="169.9" cy="678.1" r="6.15"/>
<circle class="c" cx="172.8" cy="682.4" r="6.15"/>
<circle class="c" cx="168.5" cy="686.7" r="6.15"/>
<circle class="c" cx="171.4" cy="691.0" r="6.15"/>
<circle class="c" cx="168.5" cy="697.5" r="6.15"/>
<circle class="c" cx="170.6" cy="703.9" r="6.15"/>
<circle class="c" cx="168.5" cy="710.4" r="6.15"/>
<circle class="c" cx="169.9" cy="714.7" r="6.15"/>
<circle class="c" cx="174.2" cy="675.9" r="6.15"/>
<circle class="c" cx="175.6" cy="686.7" r="6.15"/>
<circle class="c" cx="168.5" cy="630.7" r="6.15"/>
<circle class="c" cx="170.6" cy="639.3" r="6.15"/>
<circle class="c" cx="172.1" cy="645.8" r="6.15"/>
<circle class="c" cx="168.5" cy="617.8" r="6.15"/>
<circle class="d" cx="179.1" cy="630.7" r="6.15"/>
<circle class="d" cx="177.7" cy="620.0" r="6.15"/>
<circle class="d" cx="165.0" cy="616.9" r="6.15"/>
<circle class="d" cx="160.2" cy="703.9" r="6.15"/>
<circle class="c" cx="179.6" cy="624.3" r="6.15"/>
<circle class="c" cx="183.1" cy="568.3" r="6.15"/>
<circle class="c" cx="201.1" cy="640.4" r="6.15"/>
<circle class="c" cx="199.1" cy="593.5" r="6.15"/>
<circle class="c" cx="186.9" cy="714.7" r="6.15"/>
<circle class="d" cx="178.0" cy="680.2" r="6.15"/>
<circle class="d" cx="172.8" cy="710.4" r="6.15"/>
<circle class="d" cx="194.4" cy="675.9" r="6.15"/>
<circle class="d" cx="190.6" cy="711.7" r="6.15"/>
<circle class="d" cx="182.5" cy="707.4" r="6.15"/>
<circle class="c" cx="191.2" cy="684.5" r="6.15"/>
<circle class="d" cx="182.8" cy="669.5" r="6.15"/>
<circle class="c" cx="189.8" cy="703.9" r="6.15"/>
<circle class="d" cx="186.1" cy="709.1" r="6.15"/>
<circle class="d" cx="186.1" cy="663.0" r="6.15"/>
<circle class="d" cx="177.6" cy="712.5" r="6.15"/>
<circle class="d" cx="182.1" cy="681.1" r="6.15"/>
<circle class="d" cx="186.2" cy="670.8" r="6.15"/>
<circle class="d" cx="182.4" cy="701.8" r="6.15"/>
<circle class="d" cx="186.1" cy="686.7" r="6.15"/>
<circle class="d" cx="173.8" cy="708.2" r="6.15"/>
<circle class="d" cx="199.2" cy="693.2" r="6.15"/>
<circle class="d" cx="183.0" cy="682.4" r="6.15"/>
<circle class="d" cx="194.4" cy="677.2" r="6.15"/>
<circle class="d" cx="182.7" cy="706.1" r="6.15"/>
<circle class="d" cx="178.3" cy="675.9" r="6.15"/>
<circle class="d" cx="190.5" cy="688.9" r="6.15"/>
<circle class="d" cx="198.7" cy="662.2" r="6.15"/>
<circle class="d" cx="173.5" cy="694.4" r="6.15"/>
<circle class="d" cx="198.5" cy="709.1" r="6.15"/>
<circle class="d" cx="173.1" cy="711.7" r="6.15"/>
<circle class="d" cx="189.9" cy="680.2" r="6.15"/>
<circle class="d" cx="189.9" cy="671.6" r="6.15"/>
<circle class="d" cx="194.7" cy="699.6" r="6.15"/>
<circle class="d" cx="194.7" cy="696.6" r="6.15"/>
<circle class="d" cx="198.5" cy="671.6" r="6.15"/>
<circle class="c" cx="192.6" cy="688.9" r="6.15"/>
<circle class="d" cx="199.5" cy="675.1" r="6.15"/>
<circle class="d" cx="199.1" cy="678.1" r="6.15"/>
<circle class="d" cx="194.6" cy="694.0" r="6.15"/>
<circle class="d" cx="185.5" cy="705.2" r="6.15"/>
<circle class="d" cx="182.3" cy="673.8" r="6.15"/>
<circle class="d" cx="195.0" cy="668.6" r="6.15"/>
<circle class="d" cx="178.1" cy="697.5" r="6.15"/>
<circle class="d" cx="186.2" cy="670.3" r="6.15"/>
<circle class="d" cx="194.1" cy="688.9" r="6.15"/>
<circle class="c" cx="189.8" cy="673.8" r="6.15"/>
<circle class="d" cx="183.2" cy="671.6" r="6.15"/>
<circle class="d" cx="173.3" cy="703.1" r="6.15"/>
<circle class="d" cx="198.9" cy="670.3" r="6.15"/>
<circle class="d" cx="185.4" cy="714.7" r="6.15"/>
<circle class="d" cx="199.5" cy="687.6" r="6.15"/>
<circle class="d" cx="199.1" cy="688.9" r="6.15"/>
<circle class="d" cx="189.8" cy="709.1" r="6.15"/>
<circle class="d" cx="190.6" cy="665.2" r="6.15"/>
<circle class="d" cx="190.0" cy="667.3" r="6.15"/>
<circle class="d" cx="182.3" cy="675.9" r="6.15"/>
<circle class="d" cx="182.5" cy="697.5" r="6.15"/>
<circle class="d" cx="183.0" cy="666.5" r="6.15"/>
<circle class="d" cx="194.4" cy="685.4" r="6.15"/>
<circle class="d" cx="198.9" cy="683.3" r="6.15"/>
<circle class="d" cx="185.8" cy="691.0" r="6.15"/>
<circle class="d" cx="194.1" cy="668.2" r="6.15"/>
<circle class="d" cx="194.1" cy="681.5" r="6.15"/>
<circle class="d" cx="177.7" cy="710.4" r="6.15"/>
<circle class="d" cx="183.1" cy="698.8" r="6.15"/>
<circle class="d" cx="186.2" cy="698.3" r="6.15"/>
<circle class="d" cx="177.6" cy="714.7" r="6.15"/>
<circle class="d" cx="199.2" cy="695.3" r="6.15"/>
<circle class="c" cx="183.4" cy="714.7" r="6.15"/>
<circle class="d" cx="185.6" cy="666.0" r="6.15"/>
<circle class="d" cx="182.8" cy="687.6" r="6.15"/>
<circle class="c" cx="189.8" cy="712.5" r="6.15"/>
<circle class="d" cx="185.5" cy="710.4" r="6.15"/>
<circle class="d" cx="177.7" cy="691.0" r="6.15"/>
<circle class="d" cx="185.6" cy="700.5" r="6.15"/>
<circle class="d" cx="190.9" cy="684.5" r="6.15"/>
<circle class="d" cx="194.7" cy="695.3" r="6.15"/>
<circle class="d" cx="185.4" cy="688.0" r="6.15"/>
<circle class="d" cx="185.6" cy="681.1" r="6.15"/>
<circle class="c" cx="177.7" cy="712.5" r="6.15"/>
<circle class="d" cx="185.5" cy="704.8" r="6.15"/>
<circle class="d" cx="186.1" cy="700.9" r="6.15"/>
<circle class="d" cx="182.3" cy="694.0" r="6.15"/>
<circle class="d" cx="177.7" cy="681.5" r="6.15"/>
<circle class="c" cx="184.1" cy="682.4" r="6.15"/>
<circle class="d" cx="182.4" cy="715.5" r="6.15"/>
<circle class="d" cx="195.1" cy="713.8" r="6.15"/>
<circle class="d" cx="190.9" cy="668.6" r="6.15"/>
<circle class="d" cx="190.7" cy="663.0" r="6.15"/>
<circle class="c" cx="184.4" cy="655.1" r="6.15"/>
<circle class="d" cx="199.1" cy="696.6" r="6.15"/>
<circle class="c" cx="192.6" cy="665.2" r="6.15"/>
<circle class="d" cx="199.5" cy="680.2" r="6.15"/>
<circle class="d" cx="186.2" cy="676.8" r="6.15"/>
<circle class="d" cx="194.1" cy="663.0" r="6.15"/>
<circle class="d" cx="199.2" cy="666.0" r="6.15"/>
<circle class="d" cx="198.9" cy="699.6" r="6.15"/>
<circle class="d" cx="189.9" cy="690.1" r="6.15"/>
<circle class="d" cx="182.1" cy="678.1" r="6.15"/>
<circle class="d" cx="195.0" cy="679.4" r="6.15"/>
<circle class="d" cx="194.7" cy="711.2" r="6.15"/>
<circle class="c" cx="187.6" cy="678.1" r="6.15"/>
<circle class="d" cx="190.0" cy="715.5" r="6.15"/>
<circle class="d" cx="177.4" cy="678.1" r="6.15"/>
<circle class="d" cx="173.6" cy="714.7" r="6.15"/>
<circle class="d" cx="194.6" cy="686.7" r="6.15"/>
<circle class="c" cx="188.3" cy="691.0" r="6.15"/>
<circle class="d" cx="182.8" cy="688.9" r="6.15"/>
<circle class="d" cx="189.8" cy="694.0" r="6.15"/>
<circle class="d" cx="183.1" cy="666.0" r="6.15"/>
<circle class="d" cx="190.7" cy="704.8" r="6.15"/>
<circle class="d" cx="190.5" cy="705.2" r="6.15"/>
<circle class="d" cx="185.6" cy="695.3" r="6.15"/>
<circle class="d" cx="190.6" cy="683.3" r="6.15"/>
<circle class="d" cx="182.1" cy="703.9" r="6.15"/>
<circle class="c" cx="196.1" cy="675.9" r="6.15"/>
<circle class="d" cx="185.8" cy="674.6" r="6.15"/>
<circle class="d" cx="182.3" cy="691.0" r="6.15"/>
<circle class="d" cx="177.9" cy="709.1" r="6.15"/>
<circle class="d" cx="194.6" cy="671.6" r="6.15"/>
<circle class="c" cx="199.1" cy="659.8" r="6.15"/>
<circle class="d" cx="185.4" cy="711.7" r="6.15"/>
<circle class="d" cx="186.5" cy="684.5" r="6.15"/>
<circle class="c" cx="181.3" cy="710.4" r="6.15"/>
<circle class="d" cx="186.4" cy="668.2" r="6.15"/>
<circle class="d" cx="190.6" cy="709.5" r="6.15"/>
<circle class="c" cx="196.8" cy="710.4" r="6.15"/>
<circle class="d" cx="194.3" cy="701.8" r="6.15"/>
<circle class="d" cx="199.4" cy="701.8" r="6.15"/>
<circle class="c" cx="179.8" cy="699.6" r="6.15"/>
<circle class="d" cx="199.5" cy="667.3" r="6.15"/>
<circle class="d" cx="199.1" cy="685.4" r="6.15"/>
<circle class="c" cx="194.0" cy="697.5" r="6.15"/>
<circle class="d" cx="194.6" cy="709.1" r="6.15"/>
<circle class="d" cx="186.2" cy="678.1" r="6.15"/>
<circle class="d" cx="190.3" cy="686.7" r="6.15"/>
<circle class="d" cx="194.8" cy="713.4" r="6.15"/>
<circle class="d" cx="177.3" cy="706.1" r="6.15"/>
<circle class="d" cx="194.3" cy="665.2" r="6.15"/>
<circle class="d" cx="177.2" cy="700.9" r="6.15"/>
<circle class="c" cx="186.2" cy="669.5" r="6.15"/>
<circle class="d" cx="177.2" cy="688.9" r="6.15"/>
<circle class="d" cx="177.6" cy="693.2" r="6.15"/>
<circle class="d" cx="199.5" cy="703.9" r="6.15"/>
<circle class="d" cx="185.9" cy="681.5" r="6.15"/>
<circle class="d" cx="190.7" cy="700.9" r="6.15"/>
<circle class="d" cx="177.3" cy="699.6" r="6.15"/>
<circle class="d" cx="183.2" cy="713.4" r="6.15"/>
<circle class="d" cx="177.3" cy="685.4" r="6.15"/>
<circle class="d" cx="195.3" cy="691.0" r="6.15"/>
<circle class="d" cx="190.2" cy="697.5" r="6.15"/>
<circle class="c" cx="195.4" cy="706.1" r="6.15"/>
<circle class="d" cx="190.2" cy="695.3" r="6.15"/>
<circle class="d" cx="189.9" cy="699.6" r="6.15"/>
<circle class="d" cx="190.2" cy="675.1" r="6.15"/>
<circle class="d" cx="190.2" cy="674.6" r="6.15"/>
<circle class="d" cx="183.1" cy="695.3" r="6.15"/>
<circle class="d" cx="177.2" cy="703.9" r="6.15"/>
<circle class="d" cx="190.5" cy="678.1" r="6.15"/>
<circle class="d" cx="173.6" cy="692.3" r="6.15"/>
<circle class="d" cx="199.5" cy="690.1" r="6.15"/>
<circle class="d" cx="194.7" cy="704.8" r="6.15"/>
<circle class="d" cx="177.7" cy="695.3" r="6.15"/>
<circle class="c" cx="182.7" cy="706.1" r="6.15"/>
<circle class="d" cx="177.6" cy="686.7" r="6.15"/>
<circle class="c" cx="183.4" cy="695.3" r="6.15"/>
<circle class="d" cx="173.6" cy="698.3" r="6.15"/>
<circle class="d" cx="173.8" cy="701.8" r="6.15"/>
<circle class="d" cx="185.4" cy="693.2" r="6.15"/>
<circle class="d" cx="177.2" cy="674.6" r="6.15"/>
<circle class="d" cx="194.8" cy="706.1" r="6.15"/>
<circle class="d" cx="173.2" cy="700.5" r="6.15"/>
<circle class="d" cx="172.8" cy="706.9" r="6.15"/>
<circle class="c" cx="185.5" cy="701.8" r="6.15"/>
<circle class="d" cx="182.8" cy="711.2" r="6.15"/>
<circle class="d" cx="198.7" cy="714.7" r="6.15"/>
<circle class="d" cx="199.1" cy="705.2" r="6.15"/>
<circle class="c" cx="198.2" cy="715.1" r="6.15"/>
<circle class="d" cx="182.3" cy="685.4" r="6.15"/>
<circle class="d" cx="194.4" cy="673.8" r="6.15"/>
<circle class="d" cx="198.8" cy="712.5" r="6.15"/>
<circle class="d" cx="198.7" cy="710.4" r="6.15"/>
<circle class="d" cx="198.5" cy="674.6" r="6.15"/>
<circle class="d" cx="199.1" cy="714.7" r="6.15"/>
<circle class="d" cx="199.1" cy="712.5" r="6.15"/>
<circle class="d" cx="199.1" cy="710.4" r="6.15"/>
<circle class="d" cx="199.1" cy="708.2" r="6.15"/>
<circle class="d" cx="199.1" cy="706.1" r="6.15"/>
<circle class="d" cx="199.1" cy="703.9" r="6.15"/>
<circle class="d" cx="199.1" cy="701.8" r="6.15"/>
<circle class="d" cx="199.1" cy="699.6" r="6.15"/>
<circle class="d" cx="199.1" cy="697.5" r="6.15"/>
<circle class="d" cx="199.1" cy="695.3" r="6.15"/>
<circle class="d" cx="199.1" cy="693.2" r="6.15"/>
<circle class="d" cx="199.1" cy="691.0" r="6.15"/>
<circle class="d" cx="199.1" cy="688.9" r="6.15"/>
<circle class="d" cx="199.1" cy="686.7" r="6.15"/>
<circle class="d" cx="199.1" cy="684.5" r="6.15"/>
<circle class="d" cx="199.1" cy="682.4" r="6.15"/>
<circle class="d" cx="199.1" cy="680.2" r="6.15"/>
<circle class="d" cx="199.1" cy="678.1" r="6.15"/>
<circle class="d" cx="199.1" cy="675.9" r="6.15"/>
<circle class="d" cx="199.1" cy="673.8" r="6.15"/>
<circle class="d" cx="199.1" cy="671.6" r="6.15"/>
<circle class="d" cx="199.1" cy="669.5" r="6.15"/>
<circle class="d" cx="199.1" cy="667.3" r="6.15"/>
<circle class="d" cx="199.1" cy="665.2" r="6.15"/>
<circle class="d" cx="199.1" cy="663.0" r="6.15"/>
<circle class="d" cx="199.1" cy="660.9" r="6.15"/>
<circle class="d" cx="199.1" cy="658.7" r="6.15"/>
<circle class="d" cx="199.1" cy="656.6" r="6.15"/>
<circle class="d" cx="199.1" cy="654.4" r="6.15"/>
<circle class="d" cx="199.1" cy="652.3" r="6.15"/>
<circle class="d" cx="199.1" cy="650.1" r="6.15"/>
<circle class="d" cx="199.1" cy="647.9" r="6.15"/>
<circle class="d" cx="199.1" cy="645.8" r="6.15"/>
<circle class="d" cx="190.3" cy="660.9" r="6.15"/>
<circle class="d" cx="190.3" cy="656.6" r="6.15"/>
<circle class="d" cx="190.3" cy="652.3" r="6.15"/>
<circle class="d" cx="190.3" cy="647.9" r="6.15"/>
<circle class="d" cx="190.3" cy="643.6" r="6.15"/>
<circle class="d" cx="177.7" cy="645.8" r="6.15"/>
<circle class="d" cx="182.7" cy="647.9" r="6.15"/>
<circle class="d" cx="185.9" cy="645.8" r="6.15"/>
<circle class="d" cx="178.9" cy="655.3" r="6.15"/>
<circle class="d" cx="180.1" cy="641.5" r="6.15"/>
<circle class="d" cx="184.1" cy="637.6" r="6.15"/>
<circle class="d" cx="189.8" cy="642.6" r="6.15"/>
<circle class="d" cx="182.0" cy="636.3" r="6.15"/>
<circle class="d" cx="199.1" cy="635.0" r="6.15"/>
<circle class="d" cx="190.3" cy="627.7" r="6.15"/>
<circle class="d" cx="182.0" cy="618.2" r="6.15"/>
<circle class="d" cx="190.3" cy="618.2" r="6.15"/>
<circle class="d" cx="182.0" cy="604.9" r="6.15"/>
<circle class="d" cx="190.3" cy="607.5" r="6.15"/>
<circle class="d" cx="200.6" cy="608.5" r="6.15"/>
<circle class="d" cx="204.7" cy="624.3" r="6.15"/>
<circle class="d" cx="185.9" cy="630.7" r="6.15"/>
<circle class="d" cx="194.7" cy="639.3" r="6.15"/>
<circle class="d" cx="194.7" cy="650.1" r="6.15"/>
<circle class="d" cx="185.9" cy="652.3" r="6.15"/>
<circle class="d" cx="190.3" cy="551.1" r="6.15"/>
<circle class="d" cx="190.3" cy="556.9" r="6.15"/>
<circle class="d" cx="190.3" cy="564.0" r="6.15"/>
<circle class="d" cx="177.7" cy="559.7" r="6.15"/>
<circle class="d" cx="199.1" cy="541.4" r="6.15"/>
<circle class="d" cx="199.1" cy="567.2" r="6.15"/>
<circle class="d" cx="194.0" cy="576.9" r="6.15"/>
<circle class="d" cx="199.1" cy="585.5" r="6.15"/>
<circle class="d" cx="190.3" cy="594.8" r="6.15"/>
<circle class="d" cx="178.4" cy="561.2" r="6.15"/>
<circle class="c" cx="186.5" cy="653.5" r="6.15"/>
<circle class="c" cx="199.1" cy="546.1" r="6.15"/>
<circle class="c" cx="199.1" cy="576.0" r="6.15"/>
<circle class="c" cx="185.9" cy="583.1" r="6.15"/>
<circle class="c" cx="199.1" cy="612.2" r="6.15"/>
<circle class="c" cx="199.1" cy="619.5" r="6.15"/>
<circle class="c" cx="199.1" cy="625.6" r="6.15"/>
<circle class="c" cx="184.1" cy="568.3" r="6.15"/>
<circle class="d" cx="211.8" cy="589.8" r="6.15"/>
<circle class="d" cx="224.7" cy="570.4" r="6.15"/>
<circle class="d" cx="224.7" cy="581.2" r="6.15"/>
<circle class="c" cx="225.3" cy="597.8" r="6.15"/>
<circle class="c" cx="220.5" cy="602.7" r="6.15"/>
<circle class="c" cx="224.8" cy="635.0" r="6.15"/>
<circle class="c" cx="219.3" cy="652.3" r="6.15"/>
<circle class="c" cx="224.8" cy="660.9" r="6.15"/>
<circle class="c" cx="224.8" cy="665.2" r="6.15"/>
<circle class="c" cx="224.8" cy="684.5" r="6.15"/>
<circle class="c" cx="213.4" cy="698.5" r="6.15"/>
<circle class="c" cx="211.5" cy="699.6" r="6.15"/>
<circle class="c" cx="211.5" cy="714.7" r="6.15"/>
<circle class="c" cx="205.3" cy="701.8" r="6.15"/>
<circle class="d" cx="224.7" cy="628.6" r="6.15"/>
<circle class="d" cx="220.5" cy="641.5" r="6.15"/>
<circle class="d" cx="224.8" cy="647.9" r="6.15"/>
<circle class="d" cx="229.8" cy="656.6" r="6.15"/>
<circle class="d" cx="224.8" cy="675.3" r="6.15"/>
<circle class="d" cx="208.6" cy="675.3" r="6.15"/>
<circle class="d" cx="214.5" cy="680.2" r="6.15"/>
<circle class="d" cx="213.4" cy="688.9" r="6.15"/>
<circle class="d" cx="208.6" cy="710.4" r="6.15"/>
<circle class="d" cx="232.6" cy="693.6" r="6.15"/>
<circle class="d" cx="223.0" cy="698.5" r="6.15"/>
<circle class="d" cx="232.6" cy="704.4" r="6.15"/>
<circle class="d" cx="223.7" cy="714.7" r="6.15"/>
<circle class="d" cx="239.8" cy="670.3" r="6.15"/>
<circle class="d" cx="242.4" cy="713.6" r="6.15"/>
<circle class="d" cx="220.5" cy="638.7" r="6.15"/>
<circle class="c" cx="219.3" cy="707.2" r="6.15"/>
<circle class="c" cx="226.5" cy="713.6" r="6.15"/>
<circle class="c" cx="239.3" cy="678.1" r="6.15"/>
<circle class="d" cx="185.5" cy="471.4" r="6.15"/>
<circle class="d" cx="199.1" cy="475.7" r="6.15"/>
<circle class="d" cx="190.9" cy="484.3" r="6.15"/>
<circle class="d" cx="185.9" cy="492.9" r="6.15"/>
<circle class="d" cx="185.9" cy="497.2" r="6.15"/>
<circle class="d" cx="190.3" cy="510.2" r="6.15"/>
<circle class="d" cx="172.8" cy="518.8" r="6.15"/>
<circle class="d" cx="182.7" cy="517.7" r="6.15"/>
<circle class="d" cx="190.3" cy="520.9" r="6.15"/>
<circle class="d" cx="199.1" cy="520.9" r="6.15"/>
<circle class="d" cx="190.3" cy="531.7" r="6.15"/>
<circle class="d" cx="215.6" cy="533.8" r="6.15"/>
<circle class="d" cx="173.1" cy="536.0" r="6.15"/>
<circle class="d" cx="199.1" cy="540.3" r="6.15"/>
<circle class="d" cx="190.3" cy="551.1" r="6.15"/>
<circle class="d" cx="190.3" cy="557.5" r="6.15"/>
<circle class="d" cx="190.3" cy="564.0" r="6.15"/>
<circle class="d" cx="177.7" cy="559.7" r="6.15"/>
<circle class="d" cx="224.7" cy="570.4" r="6.15"/>
<circle class="d" cx="199.1" cy="568.3" r="6.15"/>
<circle class="d" cx="173.3" cy="484.3" r="6.15"/>
<circle class="d" cx="220.6" cy="484.3" r="6.15"/>
<circle class="d" cx="224.1" cy="490.8" r="6.15"/>
<circle class="d" cx="190.0" cy="456.3" r="6.15"/>
<circle class="d" cx="189.8" cy="460.6" r="6.15"/>
<circle class="d" cx="185.8" cy="469.3" r="6.15"/>
<circle class="d" cx="195.4" cy="473.6" r="6.15"/>
<circle class="c" cx="199.1" cy="546.8" r="6.15"/>
<circle class="c" cx="184.1" cy="568.3" r="6.15"/>
<circle class="c" cx="199.1" cy="572.6" r="6.15"/>
<circle class="d" cx="250.6" cy="92.5" r="6.15"/>
<circle class="d" cx="250.6" cy="314.2" r="6.15"/>
<circle class="d" cx="250.6" cy="348.7" r="6.15"/>
<circle class="d" cx="250.6" cy="370.2" r="6.15"/>
<circle class="d" cx="250.6" cy="378.8" r="6.15"/>
<circle class="d" cx="250.6" cy="383.1" r="6.15"/>
<circle class="d" cx="250.6" cy="413.3" r="6.15"/>
<circle class="d" cx="250.6" cy="458.5" r="6.15"/>
<circle class="d" cx="250.6" cy="477.9" r="6.15"/>
<circle class="d" cx="250.6" cy="484.3" r="6.15"/>
<circle class="d" cx="250.6" cy="492.9" r="6.15"/>
<circle class="d" cx="250.6" cy="503.7" r="6.15"/>
<circle class="d" cx="250.6" cy="512.3" r="6.15"/>
<circle class="d" cx="250.6" cy="531.7" r="6.15"/>
<circle class="d" cx="250.6" cy="546.8" r="6.15"/>
<circle class="d" cx="250.6" cy="559.7" r="6.15"/>
<circle class="d" cx="250.6" cy="564.0" r="6.15"/>
<circle class="c" cx="250.6" cy="415.4" r="6.15"/>
<circle class="c" cx="250.6" cy="518.8" r="6.15"/>
<circle class="c" cx="250.6" cy="536.0" r="6.15"/>
<circle class="c" cx="250.6" cy="566.1" r="6.15"/>
<circle class="d" cx="250.6" cy="564.0" r="6.15"/>
<circle class="d" cx="250.6" cy="613.5" r="6.15"/>
<circle class="d" cx="250.6" cy="625.3" r="6.15"/>
<circle class="d" cx="250.6" cy="637.2" r="6.15"/>
<circle class="d" cx="250.6" cy="647.9" r="6.15"/>
<circle class="d" cx="250.6" cy="652.9" r="6.15"/>
<circle class="d" cx="250.6" cy="651.2" r="6.15"/>
<circle class="d" cx="250.6" cy="671.6" r="6.15"/>
<circle class="d" cx="250.6" cy="680.2" r="6.15"/>
<circle class="d" cx="250.6" cy="688.9" r="6.15"/>
<circle class="d" cx="250.6" cy="693.2" r="6.15"/>
<circle class="d" cx="250.6" cy="712.5" r="6.15"/>
<circle class="d" cx="249.5" cy="641.5" r="6.15"/>
<circle class="d" cx="257.0" cy="658.7" r="6.15"/>
<circle class="d" cx="261.9" cy="663.0" r="6.15"/>
<circle class="c" cx="250.6" cy="583.4" r="6.15"/>
<circle class="c" cx="250.6" cy="589.8" r="6.15"/>
<circle class="c" cx="250.6" cy="598.4" r="6.15"/>
<circle class="c" cx="250.6" cy="603.8" r="6.15"/>
<circle class="c" cx="250.6" cy="617.8" r="6.15"/>
<circle class="c" cx="250.6" cy="630.7" r="6.15"/>
<circle class="c" cx="250.6" cy="658.7" r="6.15"/>
<circle class="c" cx="250.6" cy="660.9" r="6.15"/>
<circle class="c" cx="250.6" cy="703.9" r="6.15"/>
<circle class="c" cx="250.6" cy="715.8" r="6.15"/>
<circle class="c" cx="248.5" cy="610.3" r="6.15"/>
<circle class="c" cx="245.4" cy="622.1" r="6.15"/>
<circle class="c" cx="256.3" cy="674.9" r="6.15"/>
<circle class="d" cx="250.6" cy="613.5" r="6.15"/>
<circle class="d" cx="250.6" cy="625.3" r="6.15"/>
<circle class="d" cx="250.6" cy="671.6" r="6.15"/>
<circle class="d" cx="250.6" cy="680.2" r="6.15"/>
<circle class="d" cx="250.6" cy="693.2" r="6.15"/>
<circle class="d" cx="282.9" cy="587.7" r="6.15"/>
<circle class="d" cx="267.0" cy="594.1" r="6.15"/>
<circle class="d" cx="277.1" cy="508.0" r="6.15"/>
<circle class="d" cx="282.9" cy="671.6" r="6.15"/>
<circle class="d" cx="280.3" cy="691.0" r="6.15"/>
<circle class="d" cx="261.1" cy="665.2" r="6.15"/>
<circle class="d" cx="262.9" cy="695.3" r="6.15"/>
<circle class="d" cx="262.9" cy="714.7" r="6.15"/>
<circle class="d" cx="285.4" cy="706.1" r="6.15"/>
<circle class="d" cx="295.3" cy="700.7" r="6.15"/>
<circle class="d" cx="294.2" cy="700.7" r="6.15"/>
<circle class="d" cx="274.1" cy="714.7" r="6.15"/>
<circle class="c" cx="280.3" cy="607.0" r="6.15"/>
<circle class="c" cx="260.5" cy="686.1" r="6.15"/>
<circle class="c" cx="266.2" cy="701.8" r="6.15"/>
<circle class="c" cx="269.3" cy="695.3" r="6.15"/>
<circle class="c" cx="274.1" cy="710.4" r="6.15"/>
<circle class="c" cx="278.5" cy="714.7" r="6.15"/>
<circle class="c" cx="290.9" cy="710.4" r="6.15"/>
<circle class="c" cx="273.9" cy="708.2" r="6.15"/>
<circle class="c" cx="278.3" cy="713.6" r="6.15"/>
<circle class="c" cx="270.1" cy="695.3" r="6.15"/>
<circle class="d" cx="302.2" cy="137.7" r="6.15"/>
<circle class="d" cx="302.2" cy="249.7" r="6.15"/>
<circle class="d" cx="302.2" cy="262.6" r="6.15"/>
<circle class="d" cx="302.2" cy="335.8" r="6.15"/>
<circle class="d" cx="302.2" cy="445.6" r="6.15"/>
<circle class="d" cx="302.2" cy="458.5" r="6.15"/>
<circle class="d" cx="302.2" cy="508.0" r="6.15"/>
<circle class="d" cx="302.2" cy="520.9" r="6.15"/>
<circle class="d" cx="302.2" cy="531.7" r="6.15"/>
<circle class="d" cx="302.2" cy="568.3" r="6.15"/>
<circle class="d" cx="302.2" cy="596.3" r="6.15"/>
<circle class="d" cx="302.2" cy="606.0" r="6.15"/>
<circle class="d" cx="302.2" cy="614.6" r="6.15"/>
<circle class="d" cx="302.2" cy="626.4" r="6.15"/>
<circle class="d" cx="302.2" cy="639.3" r="6.15"/>
<circle class="d" cx="302.2" cy="669.5" r="6.15"/>
<circle class="d" cx="302.2" cy="673.8" r="6.15"/>
<circle class="d" cx="302.2" cy="678.1" r="6.15"/>
<circle class="d" cx="302.2" cy="682.4" r="6.15"/>
<circle class="d" cx="302.2" cy="686.7" r="6.15"/>
<circle class="d" cx="302.2" cy="695.3" r="6.15"/>
<circle class="d" cx="302.2" cy="699.6" r="6.15"/>
<circle class="d" cx="302.2" cy="703.9" r="6.15"/>
<circle class="d" cx="302.2" cy="708.2" r="6.15"/>
<circle class="d" cx="302.2" cy="712.5" r="6.15"/>
<circle class="d" cx="302.2" cy="714.7" r="6.15"/>
<circle class="c" cx="307.2" cy="574.7" r="6.15"/>
<circle class="c" cx="302.2" cy="600.6" r="6.15"/>
<circle class="c" cx="302.2" cy="635.0" r="6.15"/>
<circle class="c" cx="302.2" cy="650.1" r="6.15"/>
<circle class="c" cx="302.2" cy="656.6" r="6.15"/>
<circle class="c" cx="302.2" cy="660.9" r="6.15"/>
<circle class="c" cx="302.2" cy="691.0" r="6.15"/>
<circle class="c" cx="298.7" cy="667.3" r="6.15"/>
<circle class="d" cx="302.2" cy="604.9" r="6.15"/>
<circle class="d" cx="308.2" cy="707.2" r="6.15"/>
<circle class="d" cx="315.7" cy="714.7" r="6.15"/>
<circle class="d" cx="320.8" cy="714.7" r="6.15"/>
<circle class="d" cx="327.9" cy="714.7" r="6.15"/>
<circle class="d" cx="324.6" cy="703.9" r="6.15"/>
<circle class="d" cx="331.0" cy="708.2" r="6.15"/>
<circle class="d" cx="335.5" cy="703.9" r="6.15"/>
<circle class="d" cx="328.4" cy="682.4" r="6.15"/>
<circle class="d" cx="339.0" cy="624.3" r="6.15"/>
<circle class="c" cx="326.4" cy="635.0" r="6.15"/>
<circle class="c" cx="353.9" cy="557.5" r="6.15"/>
<circle class="d" cx="353.9" cy="316.4" r="6.15"/>
<circle class="d" cx="353.9" cy="409.0" r="6.15"/>
<circle class="d" cx="353.9" cy="467.1" r="6.15"/>
<circle class="d" cx="353.9" cy="497.2" r="6.15"/>
<circle class="d" cx="353.9" cy="512.3" r="6.15"/>
<circle class="d" cx="353.9" cy="555.4" r="6.15"/>
<circle class="c" cx="353.9" cy="514.5" r="6.15"/>
<circle class="d" cx="346.1" cy="228.1" r="6.15"/>
<circle class="d" cx="365.9" cy="568.3" r="6.15"/>
<circle class="d" cx="357.0" cy="624.3" r="6.15"/>
<circle class="d" cx="353.9" cy="630.7" r="6.15"/>
<circle class="d" cx="353.9" cy="641.5" r="6.15"/>
<circle class="c" cx="351.1" cy="650.1" r="6.15"/>
<circle class="d" cx="352.5" cy="652.3" r="6.15"/>
<circle class="d" cx="354.2" cy="656.6" r="6.15"/>
<circle class="c" cx="353.9" cy="665.2" r="6.15"/>
<circle class="d" cx="349.6" cy="667.3" r="6.15"/>
<circle class="d" cx="355.3" cy="671.6" r="6.15"/>
<circle class="c" cx="351.8" cy="673.8" r="6.15"/>
<circle class="d" cx="346.1" cy="684.5" r="6.15"/>
<circle class="d" cx="358.1" cy="682.4" r="6.15"/>
<circle class="d" cx="362.5" cy="688.9" r="6.15"/>
<circle class="d" cx="353.9" cy="686.7" r="6.15"/>
<circle class="d" cx="353.9" cy="691.0" r="6.15"/>
<circle class="c" cx="353.9" cy="695.3" r="6.15"/>
<circle class="c" cx="353.9" cy="699.6" r="6.15"/>
<circle class="d" cx="353.9" cy="703.9" r="6.15"/>
<circle class="c" cx="353.9" cy="708.2" r="6.15"/>
<circle class="d" cx="353.9" cy="712.5" r="6.15"/>
<circle class="c" cx="353.9" cy="714.7" r="6.15"/>
<circle class="d" cx="363.8" cy="698.5" r="6.15"/>
<circle class="d" cx="374.0" cy="714.7" r="6.15"/>
<circle class="d" cx="377.8" cy="710.4" r="6.15"/>
<circle class="d" cx="379.1" cy="699.6" r="6.15"/>
<circle class="d" cx="386.6" cy="700.7" r="6.15"/>
<circle class="d" cx="394.2" cy="699.6" r="6.15"/>
<circle class="d" cx="394.2" cy="706.1" r="6.15"/>
<circle class="d" cx="385.0" cy="703.9" r="6.15"/>
<circle class="d" cx="385.0" cy="555.4" r="6.15"/>
<circle class="c" cx="367.6" cy="712.5" r="6.15"/>
<circle class="c" cx="380.8" cy="709.3" r="6.15"/>
<circle class="c" cx="380.2" cy="592.0" r="6.15"/>
<circle class="c" cx="380.2" cy="671.6" r="6.15"/>
<circle class="c" cx="380.2" cy="684.5" r="6.15"/>
<circle class="d" cx="380.4" cy="327.2" r="6.15"/>
<circle class="d" cx="401.4" cy="365.9" r="6.15"/>
<circle class="d" cx="394.9" cy="383.1" r="6.15"/>
<circle class="d" cx="377.9" cy="391.8" r="6.15"/>
<circle class="d" cx="366.9" cy="430.5" r="6.15"/>
<circle class="d" cx="405.5" cy="542.5" r="6.15"/>
<circle class="d" cx="405.5" cy="585.5" r="6.15"/>
<circle class="d" cx="405.5" cy="625.3" r="6.15"/>
<circle class="d" cx="405.5" cy="647.9" r="6.15"/>
<circle class="d" cx="405.5" cy="669.5" r="6.15"/>
<circle class="d" cx="405.5" cy="682.4" r="6.15"/>
<circle class="d" cx="405.5" cy="691.0" r="6.15"/>
<circle class="d" cx="405.5" cy="695.3" r="6.15"/>
<circle class="d" cx="405.5" cy="699.6" r="6.15"/>
<circle class="d" cx="405.5" cy="703.9" r="6.15"/>
<circle class="c" cx="405.5" cy="443.4" r="6.15"/>
<circle class="c" cx="405.5" cy="598.4" r="6.15"/>
<circle class="c" cx="405.5" cy="611.3" r="6.15"/>
<circle class="c" cx="405.5" cy="615.7" r="6.15"/>
<circle class="c" cx="405.5" cy="628.6" r="6.15"/>
<circle class="c" cx="405.5" cy="675.9" r="6.15"/>
<circle class="c" cx="405.5" cy="709.3" r="6.15"/>
<circle class="c" cx="405.5" cy="714.7" r="6.15"/>
<circle class="c" cx="410.6" cy="688.9" r="6.15"/>
<circle class="c" cx="411.9" cy="693.2" r="6.15"/>
<circle class="c" cx="424.1" cy="695.3" r="6.15"/>
<circle class="c" cx="416.4" cy="707.2" r="6.15"/>
<circle class="d" cx="420.4" cy="637.2" r="6.15"/>
<circle class="d" cx="425.1" cy="708.2" r="6.15"/>
<circle class="d" cx="419.5" cy="714.7" r="6.15"/>
<circle class="d" cx="400.6" cy="701.8" r="6.15"/>
<circle class="d" cx="413.3" cy="701.8" r="6.15"/>
<circle class="c" cx="457.2" cy="592.0" r="6.15"/>
<circle class="c" cx="457.2" cy="611.3" r="6.15"/>
<circle class="c" cx="457.2" cy="624.3" r="6.15"/>
<circle class="c" cx="457.2" cy="628.6" r="6.15"/>
<circle class="c" cx="457.2" cy="641.5" r="6.15"/>
<circle class="c" cx="457.2" cy="669.5" r="6.15"/>
<circle class="c" cx="457.2" cy="699.6" r="6.15"/>
<circle class="d" cx="457.2" cy="650.1" r="6.15"/>
<circle class="d" cx="457.2" cy="680.2" r="6.15"/>
<circle class="d" cx="457.2" cy="684.5" r="6.15"/>
<circle class="d" cx="457.2" cy="688.9" r="6.15"/>
<circle class="d" cx="457.2" cy="693.2" r="6.15"/>
<circle class="d" cx="457.2" cy="697.5" r="6.15"/>
<circle class="d" cx="457.2" cy="703.9" r="6.15"/>
<circle class="d" cx="457.2" cy="708.2" r="6.15"/>
<circle class="d" cx="457.2" cy="712.5" r="6.15"/>
<circle class="d" cx="457.2" cy="714.7" r="6.15"/>
<circle class="c" cx="457.2" cy="699.6" r="6.15"/>
<circle class="d" cx="446.9" cy="710.4" r="6.15"/>
<circle class="d" cx="451.9" cy="706.1" r="6.15"/>
<circle class="d" cx="462.1" cy="708.2" r="6.15"/>
<circle class="d" cx="468.5" cy="714.7" r="6.15"/>
<circle class="d" cx="474.7" cy="714.7" r="6.15"/>
<circle class="d" cx="480.5" cy="713.6" r="6.15"/>
<circle class="d" cx="489.9" cy="706.1" r="6.15"/>
<circle class="d" cx="495.8" cy="703.9" r="6.15"/>
<circle class="d" cx="497.1" cy="714.7" r="6.15"/>
<circle class="c" cx="470.9" cy="701.8" r="6.15"/>
<circle class="c" cx="475.6" cy="701.8" r="6.15"/>
<circle class="c" cx="486.2" cy="665.2" r="6.15"/>
<circle class="c" cx="500.1" cy="706.1" r="6.15"/>
<circle class="d" cx="511.0" cy="587.7" r="6.15"/>
<circle class="c" cx="508.8" cy="548.9" r="6.15"/>
<circle class="c" cx="508.8" cy="587.7" r="6.15"/>
<circle class="c" cx="508.8" cy="673.8" r="6.15"/>
<circle class="d" cx="508.8" cy="624.3" r="6.15"/>
<circle class="d" cx="508.8" cy="630.7" r="6.15"/>
<circle class="d" cx="508.8" cy="650.1" r="6.15"/>
<circle class="d" cx="508.8" cy="669.5" r="6.15"/>
<circle class="d" cx="508.8" cy="675.9" r="6.15"/>
<circle class="d" cx="508.8" cy="680.2" r="6.15"/>
<circle class="d" cx="508.8" cy="684.5" r="6.15"/>
<circle class="d" cx="508.8" cy="688.9" r="6.15"/>
<circle class="d" cx="508.8" cy="693.2" r="6.15"/>
<circle class="d" cx="508.8" cy="697.5" r="6.15"/>
<circle class="d" cx="508.8" cy="701.8" r="6.15"/>
<circle class="d" cx="508.8" cy="706.1" r="6.15"/>
<circle class="c" cx="508.8" cy="643.6" r="6.15"/>
<circle class="c" cx="516.0" cy="701.8" r="6.15"/>
<circle class="c" cx="508.8" cy="711.5" r="6.15"/>
<circle class="c" cx="501.0" cy="703.9" r="6.15"/>
<circle class="d" cx="503.3" cy="654.4" r="6.15"/>
<circle class="d" cx="513.5" cy="714.7" r="6.15"/>
<circle class="d" cx="534.7" cy="714.7" r="6.15"/>
<circle class="d" cx="529.2" cy="415.4" r="6.15"/>
<circle class="d" cx="560.5" cy="350.8" r="6.15"/>
<circle class="d" cx="560.5" cy="424.0" r="6.15"/>
<circle class="d" cx="560.5" cy="520.9" r="6.15"/>
<circle class="d" cx="560.5" cy="581.2" r="6.15"/>
<circle class="d" cx="560.5" cy="613.5" r="6.15"/>
<circle class="d" cx="560.5" cy="620.0" r="6.15"/>
<circle class="d" cx="560.5" cy="632.9" r="6.15"/>
<circle class="d" cx="560.5" cy="650.1" r="6.15"/>
<circle class="d" cx="560.5" cy="660.9" r="6.15"/>
<circle class="d" cx="560.5" cy="665.2" r="6.15"/>
<circle class="d" cx="560.5" cy="680.2" r="6.15"/>
<circle class="d" cx="560.5" cy="684.5" r="6.15"/>
<circle class="d" cx="560.5" cy="688.9" r="6.15"/>
<circle class="d" cx="560.5" cy="693.2" r="6.15"/>
<circle class="d" cx="560.5" cy="697.5" r="6.15"/>
<circle class="d" cx="560.5" cy="701.8" r="6.15"/>
<circle class="d" cx="560.5" cy="706.1" r="6.15"/>
<circle class="d" cx="554.5" cy="523.1" r="6.15"/>
<circle class="c" cx="556.9" cy="544.6" r="6.15"/>
<circle class="c" cx="561.3" cy="544.6" r="6.15"/>
<circle class="c" cx="560.5" cy="710.4" r="6.15"/>
<circle class="c" cx="568.7" cy="678.1" r="6.15"/>
<circle class="d" cx="560.5" cy="714.7" r="6.15"/>
<circle class="d" cx="576.6" cy="697.5" r="6.15"/>
<circle class="d" cx="573.1" cy="708.2" r="6.15"/>
<circle class="d" cx="585.0" cy="714.7" r="6.15"/>
<circle class="c" cx="612.1" cy="641.5" r="6.15"/>
<circle class="c" cx="610.0" cy="706.1" r="6.15"/>
<circle class="d" cx="610.9" cy="678.1" r="6.15"/>
<circle class="d" cx="612.1" cy="691.0" r="6.15"/>
<circle class="d" cx="612.1" cy="695.3" r="6.15"/>
<circle class="d" cx="612.1" cy="699.6" r="6.15"/>
<circle class="d" cx="612.1" cy="703.9" r="6.15"/>
<circle class="d" cx="612.1" cy="708.2" r="6.15"/>
<circle class="d" cx="612.1" cy="712.5" r="6.15"/>
<circle class="d" cx="612.1" cy="714.7" r="6.15"/>
<circle class="d" cx="634.8" cy="699.6" r="6.15"/>
<circle class="d" cx="634.8" cy="714.7" r="6.15"/>
<circle class="c" cx="663.8" cy="609.2" r="6.15"/>
<circle class="d" cx="663.8" cy="533.8" r="6.15"/>
<circle class="d" cx="663.8" cy="620.0" r="6.15"/>
<circle class="c" cx="663.8" cy="637.2" r="6.15"/>
<circle class="c" cx="663.8" cy="643.6" r="6.15"/>
<circle class="d" cx="665.9" cy="665.2" r="6.15"/>
<circle class="c" cx="663.8" cy="663.0" r="6.15"/>
<circle class="d" cx="663.8" cy="671.6" r="6.15"/>
<circle class="d" cx="663.8" cy="678.1" r="6.15"/>
<circle class="d" cx="671.8" cy="680.2" r="6.15"/>
<circle class="d" cx="663.8" cy="691.0" r="6.15"/>
<circle class="c" cx="663.8" cy="697.5" r="6.15"/>
<circle class="d" cx="663.8" cy="700.7" r="6.15"/>
<circle class="c" cx="663.8" cy="714.7" r="6.15"/>
<circle class="d" cx="663.8" cy="710.4" r="6.15"/>
<circle class="c" cx="663.8" cy="706.1" r="6.15"/>
<circle class="d" cx="671.8" cy="708.2" r="6.15"/>
<circle class="d" cx="657.0" cy="714.7" r="6.15"/>
<circle class="d" cx="685.6" cy="714.7" r="6.15"/>
<circle class="d" cx="692.8" cy="701.8" r="6.15"/>
<circle class="d" cx="698.9" cy="712.5" r="6.15"/>
<circle class="c" cx="650.3" cy="691.0" r="6.15"/>
<circle class="c" cx="689.2" cy="703.9" r="6.15"/>
<circle class="d" cx="710.3" cy="490.8" r="6.15"/>
<circle class="d" cx="715.4" cy="650.1" r="6.15"/>
<circle class="d" cx="721.1" cy="656.6" r="6.15"/>
<circle class="d" cx="715.4" cy="669.5" r="6.15"/>
<circle class="d" cx="709.6" cy="678.1" r="6.15"/>
<circle class="d" cx="731.4" cy="675.9" r="6.15"/>
<circle class="d" cx="715.4" cy="693.2" r="6.15"/>
<circle class="c" cx="715.4" cy="698.5" r="6.15"/>
<circle class="d" cx="715.4" cy="703.9" r="6.15"/>
<circle class="d" cx="722.8" cy="706.1" r="6.15"/>
<circle class="d" cx="719.0" cy="710.4" r="6.15"/>
<circle class="d" cx="711.9" cy="714.7" r="6.15"/>
<circle class="c" cx="715.4" cy="714.7" r="6.15"/>
<circle class="d" cx="747.0" cy="714.7" r="6.15"/>
<circle class="d" cx="767.1" cy="620.0" r="6.15"/>
<circle class="d" cx="767.1" cy="678.1" r="6.15"/>
<circle class="d" cx="767.1" cy="683.5" r="6.15"/>
<circle class="c" cx="769.9" cy="688.9" r="6.15"/>
<circle class="c" cx="767.1" cy="658.7" r="6.15"/>
<circle class="d" cx="758.9" cy="693.2" r="6.15"/>
<circle class="c" cx="767.1" cy="691.0" r="6.15"/>
<circle class="d" cx="767.1" cy="697.5" r="6.15"/>
<circle class="d" cx="767.1" cy="701.8" r="6.15"/>
<circle class="d" cx="767.1" cy="706.1" r="6.15"/>
<circle class="d" cx="767.1" cy="710.4" r="6.15"/>
<circle class="c" cx="767.1" cy="714.7" r="6.15"/>
<circle class="d" cx="801.3" cy="658.7" r="6.15"/>
<circle class="d" cx="818.7" cy="688.9" r="6.15"/>
<circle class="d" cx="820.8" cy="695.3" r="6.15"/>
<circle class="d" cx="818.7" cy="701.8" r="6.15"/>
<circle class="d" cx="816.5" cy="708.2" r="6.15"/>
<circle class="d" cx="818.7" cy="714.7" r="6.15"/>
<circle class="d" cx="828.6" cy="714.7" r="6.15"/>
<circle class="d" cx="835.7" cy="712.5" r="6.15"/>
<circle class="d" cx="851.1" cy="686.7" r="6.15"/>
<circle class="d" cx="870.4" cy="684.5" r="6.15"/>
<circle class="d" cx="870.4" cy="697.5" r="6.15"/>
<circle class="d" cx="870.4" cy="712.5" r="6.15"/>
<circle class="c" cx="807.8" cy="680.2" r="6.15"/>
<circle class="c" cx="858.9" cy="706.1" r="6.15"/>
<circle class="c" cx="870.4" cy="706.1" r="6.15"/>
<circle class="c" cx="825.2" cy="540.3" r="6.15"/>
<circle class="c" cx="922.0" cy="536.0" r="6.15"/>
<circle class="d" cx="898.5" cy="680.2" r="6.15"/>
<circle class="d" cx="901.2" cy="714.7" r="6.15"/>
<circle class="d" cx="922.0" cy="675.9" r="6.15"/>
<circle class="c" cx="922.7" cy="686.7" r="6.15"/>
<circle class="d" cx="924.1" cy="688.9" r="6.15"/>
<circle class="d" cx="918.5" cy="699.6" r="6.15"/>
<circle class="d" cx="922.0" cy="708.2" r="6.15"/>
<circle class="d" cx="922.0" cy="714.7" r="6.15"/>
<circle class="d" cx="934.5" cy="714.7" r="6.15"/>
<circle class="d" cx="942.5" cy="712.5" r="6.15"/>
<circle class="d" cx="949.6" cy="708.2" r="6.15"/>
<circle class="d" cx="974.4" cy="714.7" r="6.15"/>
<circle class="d" cx="992.1" cy="714.7" r="6.15"/>
<circle class="d" cx="1013.3" cy="688.9" r="6.15"/>
<circle class="d" cx="1025.4" cy="706.1" r="6.15"/>
<circle class="d" cx="1022.2" cy="714.7" r="6.15"/>
<circle class="d" cx="1067.3" cy="712.5" r="6.15"/>
<circle class="d" cx="931.4" cy="510.2" r="6.15"/>
<circle class="d" cx="182.0" cy="114.0" r="6.15"/>
<circle class="d" cx="190.9" cy="174.3" r="6.15"/>
<circle class="d" cx="190.3" cy="228.1" r="6.15"/>
<circle class="d" cx="198.9" cy="305.6" r="6.15"/>
<circle class="d" cx="185.8" cy="376.7" r="6.15"/>
<circle class="d" cx="185.8" cy="381.0" r="6.15"/>
<circle class="d" cx="198.7" cy="387.4" r="6.15"/>
<circle class="d" cx="198.7" cy="393.9" r="6.15"/>
<circle class="d" cx="176.6" cy="400.4" r="6.15"/>
<circle class="d" cx="186.1" cy="421.9" r="6.15"/>
<circle class="d" cx="455.8" cy="424.0" r="6.15"/></g>
<g><line class="tk" x1="93.9" x2="101.2" y1="716.84" y2="716.84"/>
<line class="tk" x1="93.9" x2="101.2" y1="501.55" y2="501.55"/>
<line class="tk" x1="93.9" x2="101.2" y1="286.26" y2="286.26"/>
<line class="tk" x1="93.9" x2="101.2" y1="70.97" y2="70.97"/>
<line class="tk" x1="147.30" x2="147.30" y1="745.8" y2="753.1"/>
<line class="tk" x1="430.30" x2="430.30" y1="745.8" y2="753.1"/>
<line class="tk" x1="713.30" x2="713.30" y1="745.8" y2="753.1"/>
<line class="tk" x1="996.30" x2="996.30" y1="745.8" y2="753.1"/></g>
<g><text class="ax" text-anchor="end" x="88" y="726.2">0</text>
<text class="ax" text-anchor="end" x="88" y="511.0">100</text>
<text class="ax" text-anchor="end" x="88" y="295.7">200</text>
<text class="ax" text-anchor="end" x="88" y="80.4">300</text>
<text class="ax" text-anchor="middle" x="147.3" y="776">0</text>
<text class="ax" text-anchor="middle" x="430.3" y="776">2000</text>
<text class="ax" text-anchor="middle" x="713.3" y="776">4000</text>
<text class="ax" text-anchor="middle" x="996.3" y="776">6000</text></g>
<text x="101.2" y="40.2" style="font-size:35.2px;fill:#000">Plot H</text>
<text class="t" text-anchor="middle" x="606.8" y="810.2">age_at_intake</text>
<text class="t" text-anchor="middle" transform="translate(36.6,404.4) rotate(-90)">intake_duration</text>
<text class="t" x="1156.6" y="360.9">animal_type</text>
<rect x="1157.1" y="378.2" width="46.1" height="46.1" fill="#e6e6e6"/>
<rect x="1157.1" y="424.3" width="46.1" height="46.1" fill="#e6e6e6"/>
<circle class="c" cx="1179.8" cy="401.4" r="6.15"/>
<circle class="d" cx="1179.8" cy="447.5" r="6.15"/>
<text x="1217.8" y="409.7" style="font-size:23.47px;fill:#000">CAT</text>
<text x="1217.8" y="455.8" style="font-size:23.47px;fill:#000">DOG</text>
</svg>
</body></html>
